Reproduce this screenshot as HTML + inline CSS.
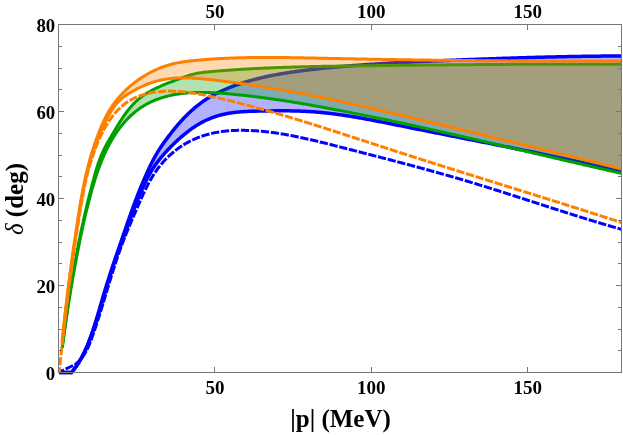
<!DOCTYPE html>
<html><head><meta charset="utf-8"><title>plot</title>
<style>
html,body{margin:0;padding:0;background:#fff;}
body{width:623px;height:435px;overflow:hidden;font-family:"Liberation Serif",serif;}
svg{display:block;will-change:transform;opacity:0.999}
</style></head><body>
<svg width="623" height="435" viewBox="0 0 623 435">
<rect width="623" height="435" fill="#ffffff"/>
<clipPath id="c"><rect x="0" y="0" width="622" height="435"/></clipPath>
<g clip-path="url(#c)">
<path d="M59.30,372.50 L71.40,372.50 L72.19,371.58 L72.96,370.64 L73.72,369.69 L74.45,368.73 L75.18,367.75 L75.89,366.77 L76.58,365.78 L77.26,364.77 L77.92,363.76 L78.57,362.73 L79.21,361.70 L79.83,360.66 L80.44,359.61 L81.03,358.55 L81.62,357.48 L82.19,356.41 L82.75,355.33 L83.30,354.24 L83.84,353.14 L84.37,352.04 L84.89,350.93 L85.40,349.82 L85.89,348.70 L86.38,347.58 L86.86,346.45 L87.34,345.31 L87.80,344.18 L88.26,343.04 L88.70,341.89 L89.15,340.75 L89.58,339.60 L90.01,338.45 L90.43,337.29 L90.85,336.14 L91.26,334.98 L91.66,333.82 L92.06,332.66 L92.46,331.50 L92.85,330.34 L93.24,329.18 L93.62,328.02 L94.00,326.86 L94.38,325.69 L94.75,324.53 L95.12,323.36 L95.48,322.20 L95.85,321.03 L96.20,319.87 L96.56,318.70 L96.92,317.53 L97.27,316.36 L97.62,315.19 L97.97,314.03 L98.31,312.86 L98.66,311.69 L99.00,310.52 L99.35,309.35 L99.69,308.18 L100.03,307.01 L100.37,305.84 L100.71,304.67 L101.05,303.50 L101.39,302.33 L101.73,301.16 L102.08,299.99 L102.42,298.82 L102.76,297.65 L103.10,296.48 L103.45,295.31 L103.79,294.14 L104.14,292.98 L104.49,291.81 L104.84,290.64 L105.20,289.48 L105.55,288.31 L105.91,287.15 L106.27,285.98 L106.63,284.82 L107.00,283.65 L107.36,282.49 L107.73,281.33 L108.10,280.16 L108.47,279.00 L108.85,277.84 L109.22,276.68 L109.60,275.52 L109.98,274.36 L110.36,273.20 L110.74,272.04 L111.12,270.88 L111.50,269.72 L111.89,268.56 L112.27,267.40 L112.66,266.24 L113.05,265.09 L113.44,263.93 L113.83,262.77 L114.22,261.61 L114.61,260.46 L115.00,259.30 L115.39,258.14 L115.79,256.99 L116.18,255.83 L116.58,254.67 L116.97,253.52 L117.37,252.36 L117.76,251.20 L118.16,250.05 L118.56,248.89 L118.95,247.73 L119.35,246.58 L119.75,245.42 L120.14,244.26 L120.54,243.11 L120.94,241.95 L121.33,240.79 L121.73,239.64 L122.13,238.48 L122.52,237.32 L122.92,236.17 L123.31,235.01 L123.71,233.85 L124.11,232.70 L124.50,231.54 L124.90,230.38 L125.30,229.23 L125.70,228.07 L126.10,226.91 L126.49,225.76 L126.89,224.60 L127.30,223.45 L127.70,222.29 L128.10,221.14 L128.50,219.99 L128.91,218.83 L129.31,217.68 L129.72,216.53 L130.13,215.37 L130.54,214.22 L130.95,213.07 L131.36,211.92 L131.77,210.77 L132.19,209.62 L132.61,208.47 L133.03,207.33 L133.45,206.18 L133.87,205.03 L134.29,203.89 L134.72,202.74 L135.15,201.60 L135.58,200.46 L136.01,199.32 L136.45,198.18 L136.88,197.04 L137.32,195.90 L137.77,194.76 L138.21,193.62 L138.66,192.49 L139.11,191.35 L139.56,190.22 L140.02,189.08 L140.47,187.95 L140.94,186.82 L141.40,185.69 L141.87,184.57 L142.34,183.44 L142.81,182.32 L143.29,181.19 L143.77,180.07 L144.25,178.95 L144.74,177.83 L145.23,176.71 L145.73,175.60 L146.23,174.48 L146.73,173.37 L147.23,172.26 L147.74,171.15 L148.26,170.04 L148.78,168.93 L149.30,167.83 L149.83,166.72 L150.36,165.62 L150.89,164.53 L151.44,163.43 L151.99,162.34 L152.54,161.25 L153.11,160.17 L153.68,159.09 L154.25,158.02 L154.84,156.95 L155.44,155.88 L156.04,154.82 L156.65,153.77 L157.28,152.72 L157.91,151.68 L158.55,150.65 L159.21,149.62 L159.87,148.60 L160.54,147.58 L161.22,146.57 L161.91,145.56 L162.60,144.56 L163.30,143.56 L164.01,142.56 L164.72,141.57 L165.44,140.58 L166.16,139.60 L166.89,138.61 L167.62,137.63 L168.35,136.65 L169.09,135.68 L169.83,134.70 L170.58,133.73 L171.33,132.77 L172.08,131.80 L172.85,130.84 L173.61,129.89 L174.38,128.93 L175.16,127.99 L175.94,127.04 L176.72,126.10 L177.52,125.17 L178.31,124.24 L179.12,123.32 L179.93,122.40 L180.74,121.49 L181.56,120.59 L182.39,119.69 L183.23,118.79 L184.07,117.91 L184.91,117.03 L185.77,116.16 L186.63,115.29 L187.50,114.43 L188.37,113.58 L189.25,112.74 L190.14,111.91 L191.03,111.08 L191.94,110.26 L192.85,109.45 L193.76,108.65 L194.69,107.86 L195.62,107.08 L196.56,106.31 L197.51,105.55 L198.46,104.79 L199.42,104.05 L200.39,103.32 L201.37,102.59 L202.36,101.88 L203.35,101.18 L204.35,100.49 L205.36,99.81 L206.38,99.14 L207.41,98.49 L208.44,97.84 L209.48,97.21 L210.54,96.59 L211.60,95.98 L212.66,95.38 L213.74,94.80 L214.82,94.22 L215.91,93.66 L217.00,93.11 L218.10,92.56 L219.21,92.03 L220.32,91.51 L221.44,90.99 L222.56,90.49 L223.68,89.99 L224.81,89.50 L225.94,89.03 L227.07,88.56 L228.21,88.09 L229.35,87.64 L230.49,87.19 L231.63,86.75 L232.78,86.32 L233.93,85.89 L235.08,85.47 L236.23,85.06 L237.38,84.66 L238.53,84.26 L239.69,83.87 L240.85,83.48 L242.01,83.10 L243.17,82.73 L244.34,82.37 L245.50,82.01 L246.67,81.66 L247.84,81.31 L249.01,80.97 L250.18,80.64 L251.35,80.31 L252.53,79.99 L253.70,79.67 L254.88,79.36 L256.06,79.06 L257.24,78.76 L258.43,78.46 L259.61,78.18 L260.79,77.89 L261.98,77.61 L263.17,77.34 L264.36,77.07 L265.55,76.81 L266.74,76.55 L267.93,76.30 L269.12,76.05 L270.32,75.80 L271.51,75.56 L272.71,75.33 L273.91,75.10 L275.11,74.87 L276.31,74.65 L277.51,74.43 L278.71,74.21 L279.91,74.00 L281.11,73.79 L282.32,73.59 L283.52,73.39 L284.73,73.19 L285.93,73.00 L287.14,72.81 L288.35,72.62 L289.56,72.44 L290.76,72.26 L291.97,72.08 L293.18,71.91 L294.39,71.73 L295.61,71.56 L296.82,71.40 L298.03,71.23 L299.24,71.07 L300.45,70.91 L301.67,70.76 L302.88,70.60 L304.09,70.45 L305.31,70.30 L306.52,70.15 L307.74,70.01 L308.95,69.86 L310.17,69.72 L311.38,69.58 L312.59,69.44 L313.81,69.30 L315.02,69.16 L316.24,69.03 L317.46,68.89 L318.67,68.76 L319.89,68.63 L321.10,68.50 L322.32,68.37 L323.53,68.25 L324.75,68.12 L325.96,68.00 L327.18,67.88 L328.40,67.76 L329.61,67.64 L330.83,67.52 L332.05,67.40 L333.26,67.29 L334.48,67.17 L335.69,67.06 L336.91,66.95 L338.13,66.84 L339.35,66.73 L340.56,66.62 L341.78,66.51 L343.00,66.41 L344.21,66.30 L345.43,66.20 L346.65,66.10 L347.87,66.00 L349.08,65.90 L350.30,65.80 L351.52,65.70 L352.74,65.61 L353.95,65.51 L355.17,65.42 L356.39,65.33 L357.61,65.23 L358.82,65.14 L360.04,65.05 L361.26,64.97 L362.48,64.88 L363.70,64.79 L364.92,64.71 L366.13,64.62 L367.35,64.54 L368.57,64.45 L369.79,64.37 L371.01,64.29 L372.23,64.21 L373.45,64.13 L374.67,64.05 L375.88,63.98 L377.10,63.90 L378.32,63.82 L379.54,63.75 L380.76,63.68 L381.98,63.60 L383.20,63.53 L384.42,63.46 L385.64,63.39 L386.86,63.32 L388.08,63.25 L389.30,63.18 L390.51,63.11 L391.73,63.04 L392.95,62.98 L394.17,62.91 L395.39,62.84 L396.61,62.78 L397.83,62.71 L399.05,62.65 L400.27,62.59 L401.49,62.53 L402.71,62.46 L403.93,62.40 L405.15,62.34 L406.37,62.28 L407.59,62.22 L408.81,62.16 L410.03,62.10 L411.25,62.04 L412.47,61.99 L413.69,61.93 L414.91,61.87 L416.13,61.82 L417.35,61.76 L418.57,61.70 L419.79,61.65 L421.01,61.59 L422.23,61.54 L423.45,61.48 L424.68,61.43 L425.90,61.38 L427.12,61.32 L428.34,61.27 L429.56,61.22 L430.78,61.17 L432.00,61.11 L433.22,61.06 L434.44,61.01 L435.66,60.96 L436.88,60.91 L438.10,60.85 L439.32,60.80 L440.54,60.75 L441.76,60.70 L442.98,60.65 L444.20,60.60 L445.42,60.55 L446.64,60.50 L447.87,60.45 L449.09,60.40 L450.31,60.35 L451.53,60.30 L452.75,60.25 L453.97,60.20 L455.19,60.15 L456.41,60.10 L457.63,60.05 L458.85,60.00 L460.07,59.96 L461.29,59.91 L462.51,59.86 L463.73,59.81 L464.96,59.76 L466.18,59.71 L467.40,59.67 L468.62,59.62 L469.84,59.57 L471.06,59.53 L472.28,59.48 L473.50,59.43 L474.72,59.39 L475.94,59.34 L477.16,59.29 L478.38,59.25 L479.61,59.20 L480.83,59.16 L482.05,59.11 L483.27,59.07 L484.49,59.02 L485.71,58.98 L486.93,58.93 L488.15,58.89 L489.37,58.84 L490.59,58.80 L491.81,58.76 L493.04,58.71 L494.26,58.67 L495.48,58.63 L496.70,58.58 L497.92,58.54 L499.14,58.50 L500.36,58.46 L501.58,58.42 L502.80,58.37 L504.02,58.33 L505.24,58.29 L506.47,58.25 L507.69,58.21 L508.91,58.17 L510.13,58.13 L511.35,58.09 L512.57,58.05 L513.79,58.01 L515.01,57.98 L516.23,57.94 L517.46,57.90 L518.68,57.86 L519.90,57.82 L521.12,57.79 L522.34,57.75 L523.56,57.71 L524.78,57.68 L526.00,57.64 L527.22,57.61 L528.45,57.57 L529.67,57.54 L530.89,57.50 L532.11,57.47 L533.33,57.43 L534.55,57.40 L535.77,57.37 L536.99,57.33 L538.22,57.30 L539.44,57.27 L540.66,57.24 L541.88,57.20 L543.10,57.17 L544.32,57.14 L545.54,57.11 L546.76,57.08 L547.99,57.05 L549.21,57.02 L550.43,56.99 L551.65,56.96 L552.87,56.93 L554.09,56.91 L555.31,56.88 L556.54,56.85 L557.76,56.82 L558.98,56.80 L560.20,56.77 L561.42,56.74 L562.64,56.72 L563.86,56.69 L565.08,56.67 L566.31,56.65 L567.53,56.62 L568.75,56.60 L569.97,56.57 L571.19,56.55 L572.41,56.53 L573.63,56.51 L574.86,56.49 L576.08,56.47 L577.30,56.44 L578.52,56.42 L579.74,56.40 L580.96,56.39 L582.19,56.37 L583.41,56.35 L584.63,56.33 L585.85,56.31 L587.07,56.29 L588.29,56.28 L589.51,56.26 L590.74,56.25 L591.96,56.23 L593.18,56.22 L594.40,56.20 L595.62,56.19 L596.84,56.17 L598.07,56.16 L599.29,56.15 L600.51,56.14 L601.73,56.12 L602.95,56.11 L604.17,56.10 L605.40,56.09 L606.62,56.08 L607.84,56.07 L609.06,56.06 L610.28,56.06 L611.50,56.05 L612.73,56.04 L613.95,56.03 L615.17,56.03 L616.39,56.02 L617.61,56.02 L618.83,56.01 L620.06,56.01 L621.28,56.00 L622.50,56.00 L622.50,172.10 L621.34,171.81 L620.18,171.53 L619.01,171.24 L617.85,170.96 L616.69,170.67 L615.53,170.39 L614.36,170.11 L613.20,169.83 L612.04,169.54 L610.87,169.26 L609.71,168.99 L608.55,168.71 L607.38,168.43 L606.22,168.15 L605.05,167.88 L603.89,167.60 L602.72,167.33 L601.56,167.06 L600.39,166.78 L599.23,166.51 L598.06,166.24 L596.90,165.97 L595.73,165.70 L594.56,165.43 L593.40,165.16 L592.23,164.90 L591.06,164.63 L589.90,164.36 L588.73,164.10 L587.56,163.83 L586.40,163.57 L585.23,163.31 L584.06,163.04 L582.89,162.78 L581.72,162.52 L580.56,162.26 L579.39,162.00 L578.22,161.74 L577.05,161.48 L575.88,161.22 L574.71,160.97 L573.54,160.71 L572.37,160.45 L571.20,160.20 L570.04,159.94 L568.87,159.69 L567.70,159.43 L566.53,159.18 L565.36,158.93 L564.19,158.67 L563.01,158.42 L561.84,158.17 L560.67,157.92 L559.50,157.67 L558.33,157.42 L557.16,157.17 L555.99,156.92 L554.82,156.67 L553.65,156.43 L552.48,156.18 L551.30,155.93 L550.13,155.69 L548.96,155.44 L547.79,155.19 L546.62,154.95 L545.45,154.70 L544.27,154.46 L543.10,154.22 L541.93,153.97 L540.76,153.73 L539.58,153.49 L538.41,153.25 L537.24,153.00 L536.07,152.76 L534.89,152.52 L533.72,152.28 L532.55,152.04 L531.37,151.80 L530.20,151.56 L529.03,151.32 L527.86,151.08 L526.68,150.85 L525.51,150.61 L524.34,150.37 L523.16,150.13 L521.99,149.89 L520.81,149.66 L519.64,149.42 L518.47,149.18 L517.29,148.95 L516.12,148.71 L514.95,148.48 L513.77,148.24 L512.60,148.01 L511.42,147.77 L510.25,147.54 L509.08,147.30 L507.90,147.07 L506.73,146.83 L505.55,146.60 L504.38,146.37 L503.21,146.13 L502.03,145.90 L500.86,145.67 L499.68,145.43 L498.51,145.20 L497.34,144.97 L496.16,144.73 L494.99,144.50 L493.81,144.27 L492.64,144.04 L491.47,143.81 L490.29,143.57 L489.12,143.34 L487.94,143.11 L486.77,142.88 L485.59,142.65 L484.42,142.42 L483.25,142.18 L482.07,141.95 L480.90,141.72 L479.72,141.49 L478.55,141.26 L477.38,141.03 L476.20,140.80 L475.03,140.57 L473.85,140.33 L472.68,140.10 L471.51,139.87 L470.33,139.64 L469.16,139.41 L467.99,139.18 L466.81,138.95 L465.64,138.72 L464.46,138.49 L463.29,138.25 L462.12,138.02 L460.94,137.79 L459.77,137.56 L458.60,137.33 L457.42,137.10 L456.25,136.87 L455.08,136.63 L453.90,136.40 L452.73,136.17 L451.56,135.94 L450.38,135.71 L449.21,135.48 L448.04,135.24 L446.86,135.01 L445.69,134.78 L444.52,134.55 L443.34,134.31 L442.17,134.08 L441.00,133.85 L439.83,133.62 L438.65,133.38 L437.48,133.15 L436.31,132.92 L435.13,132.69 L433.96,132.45 L432.79,132.22 L431.61,131.99 L430.44,131.75 L429.27,131.52 L428.09,131.29 L426.92,131.05 L425.75,130.82 L424.57,130.59 L423.40,130.35 L422.23,130.12 L421.05,129.88 L419.88,129.65 L418.70,129.42 L417.53,129.18 L416.36,128.95 L415.18,128.71 L414.01,128.48 L412.84,128.24 L411.66,128.01 L410.49,127.77 L409.31,127.54 L408.14,127.30 L406.97,127.07 L405.79,126.83 L404.62,126.60 L403.44,126.36 L402.27,126.12 L401.09,125.89 L399.92,125.65 L398.75,125.41 L397.57,125.18 L396.40,124.94 L395.22,124.70 L394.05,124.47 L392.87,124.23 L391.70,123.99 L390.52,123.76 L389.34,123.52 L388.17,123.29 L386.99,123.05 L385.82,122.82 L384.64,122.59 L383.47,122.35 L382.29,122.12 L381.11,121.89 L379.94,121.66 L378.76,121.43 L377.58,121.20 L376.41,120.97 L375.23,120.74 L374.05,120.52 L372.88,120.29 L371.70,120.07 L370.52,119.85 L369.34,119.63 L368.17,119.41 L366.99,119.19 L365.81,118.97 L364.63,118.76 L363.45,118.54 L362.27,118.33 L361.09,118.12 L359.91,117.92 L358.73,117.71 L357.55,117.51 L356.37,117.30 L355.19,117.10 L354.01,116.91 L352.83,116.71 L351.65,116.52 L350.47,116.32 L349.29,116.14 L348.11,115.95 L346.93,115.77 L345.74,115.58 L344.56,115.41 L343.38,115.23 L342.20,115.06 L341.01,114.88 L339.83,114.72 L338.65,114.55 L337.46,114.39 L336.28,114.23 L335.09,114.08 L333.91,113.92 L332.72,113.77 L331.54,113.63 L330.35,113.48 L329.16,113.34 L327.98,113.21 L326.79,113.07 L325.60,112.95 L324.42,112.82 L323.23,112.70 L322.04,112.58 L320.85,112.46 L319.66,112.35 L318.48,112.25 L317.29,112.14 L316.10,112.05 L314.91,111.95 L313.72,111.86 L312.52,111.77 L311.33,111.69 L310.14,111.61 L308.95,111.54 L307.76,111.47 L306.56,111.41 L305.37,111.35 L304.18,111.29 L302.98,111.23 L301.79,111.19 L300.60,111.14 L299.40,111.10 L298.21,111.06 L297.01,111.02 L295.82,110.99 L294.62,110.96 L293.42,110.93 L292.23,110.91 L291.03,110.89 L289.83,110.87 L288.64,110.86 L287.44,110.84 L286.24,110.83 L285.04,110.83 L283.84,110.82 L282.65,110.82 L281.45,110.82 L280.25,110.82 L279.05,110.82 L277.85,110.83 L276.65,110.83 L275.45,110.84 L274.25,110.85 L273.05,110.86 L271.85,110.88 L270.65,110.89 L269.45,110.90 L268.25,110.92 L267.05,110.94 L265.85,110.96 L264.65,110.98 L263.45,111.00 L262.25,111.02 L261.04,111.04 L259.84,111.06 L258.64,111.08 L257.44,111.11 L256.24,111.13 L255.04,111.16 L253.84,111.19 L252.63,111.23 L251.43,111.27 L250.23,111.31 L249.03,111.35 L247.83,111.41 L246.63,111.46 L245.44,111.53 L244.24,111.60 L243.04,111.67 L241.84,111.76 L240.65,111.85 L239.45,111.95 L238.26,112.06 L237.06,112.18 L235.87,112.30 L234.68,112.44 L233.49,112.59 L232.30,112.75 L231.11,112.92 L229.93,113.10 L228.75,113.30 L227.57,113.50 L226.40,113.72 L225.23,113.96 L224.06,114.21 L222.90,114.47 L221.74,114.75 L220.58,115.04 L219.43,115.35 L218.29,115.67 L217.15,116.01 L216.02,116.37 L214.89,116.74 L213.77,117.13 L212.65,117.53 L211.54,117.95 L210.44,118.39 L209.34,118.84 L208.25,119.30 L207.16,119.78 L206.08,120.28 L205.01,120.79 L203.95,121.31 L202.89,121.85 L201.84,122.41 L200.79,122.98 L199.75,123.56 L198.72,124.16 L197.70,124.77 L196.69,125.39 L195.68,126.03 L194.68,126.68 L193.68,127.34 L192.69,128.01 L191.71,128.70 L190.74,129.40 L189.77,130.10 L188.81,130.82 L187.85,131.55 L186.91,132.29 L185.96,133.03 L185.03,133.79 L184.10,134.56 L183.17,135.33 L182.25,136.11 L181.34,136.90 L180.43,137.69 L179.53,138.50 L178.63,139.31 L177.74,140.12 L176.86,140.94 L175.98,141.77 L175.10,142.60 L174.23,143.43 L173.37,144.27 L172.51,145.12 L171.65,145.97 L170.80,146.82 L169.96,147.68 L169.12,148.54 L168.29,149.41 L167.46,150.28 L166.65,151.16 L165.83,152.04 L165.03,152.93 L164.23,153.82 L163.44,154.72 L162.66,155.62 L161.89,156.53 L161.13,157.45 L160.37,158.37 L159.62,159.30 L158.89,160.23 L158.16,161.17 L157.44,162.12 L156.73,163.08 L156.03,164.04 L155.34,165.01 L154.67,165.98 L154.00,166.96 L153.35,167.95 L152.70,168.95 L152.07,169.95 L151.45,170.96 L150.84,171.98 L150.24,173.01 L149.65,174.04 L149.07,175.08 L148.51,176.12 L147.95,177.18 L147.40,178.23 L146.85,179.29 L146.32,180.36 L145.79,181.43 L145.27,182.50 L144.76,183.58 L144.25,184.66 L143.75,185.75 L143.26,186.84 L142.77,187.93 L142.28,189.02 L141.80,190.11 L141.32,191.21 L140.85,192.31 L140.38,193.41 L139.91,194.51 L139.45,195.62 L138.99,196.72 L138.53,197.83 L138.07,198.94 L137.62,200.05 L137.18,201.16 L136.73,202.27 L136.29,203.39 L135.85,204.50 L135.41,205.62 L134.98,206.74 L134.54,207.86 L134.11,208.97 L133.68,210.09 L133.26,211.22 L132.83,212.34 L132.41,213.46 L131.98,214.58 L131.56,215.71 L131.14,216.83 L130.72,217.96 L130.31,219.08 L129.89,220.21 L129.47,221.33 L129.06,222.46 L128.64,223.59 L128.23,224.71 L127.81,225.84 L127.40,226.96 L126.98,228.09 L126.57,229.22 L126.15,230.34 L125.74,231.47 L125.32,232.59 L124.90,233.72 L124.49,234.84 L124.07,235.96 L123.65,237.09 L123.23,238.21 L122.81,239.33 L122.39,240.45 L121.97,241.58 L121.55,242.70 L121.13,243.82 L120.71,244.94 L120.29,246.06 L119.87,247.18 L119.46,248.30 L119.04,249.43 L118.63,250.55 L118.22,251.67 L117.81,252.80 L117.40,253.92 L116.99,255.04 L116.59,256.17 L116.19,257.29 L115.79,258.42 L115.39,259.55 L115.00,260.68 L114.61,261.81 L114.23,262.94 L113.84,264.07 L113.46,265.20 L113.09,266.34 L112.72,267.47 L112.34,268.61 L111.98,269.74 L111.61,270.88 L111.25,272.02 L110.89,273.16 L110.53,274.30 L110.18,275.44 L109.82,276.58 L109.47,277.72 L109.12,278.86 L108.77,280.01 L108.43,281.15 L108.08,282.29 L107.74,283.44 L107.39,284.58 L107.05,285.73 L106.71,286.87 L106.37,288.02 L106.03,289.17 L105.69,290.31 L105.36,291.46 L105.02,292.61 L104.68,293.75 L104.34,294.90 L104.00,296.05 L103.67,297.19 L103.33,298.34 L102.99,299.49 L102.65,300.64 L102.31,301.78 L101.97,302.93 L101.63,304.08 L101.29,305.22 L100.95,306.37 L100.60,307.52 L100.26,308.66 L99.91,309.81 L99.56,310.95 L99.21,312.10 L98.86,313.24 L98.50,314.38 L98.15,315.53 L97.79,316.67 L97.43,317.81 L97.06,318.95 L96.70,320.09 L96.33,321.23 L95.96,322.37 L95.58,323.51 L95.21,324.65 L94.83,325.78 L94.44,326.92 L94.06,328.05 L93.67,329.19 L93.27,330.32 L92.88,331.45 L92.47,332.58 L92.07,333.71 L91.66,334.84 L91.24,335.97 L90.83,337.09 L90.40,338.22 L89.97,339.34 L89.54,340.46 L89.10,341.57 L88.65,342.69 L88.20,343.80 L87.74,344.91 L87.27,346.01 L86.80,347.11 L86.32,348.21 L85.82,349.30 L85.32,350.39 L84.81,351.47 L84.30,352.54 L83.77,353.61 L83.23,354.68 L82.68,355.74 L82.12,356.79 L81.55,357.83 L80.97,358.87 L80.37,359.90 L79.76,360.92 L79.14,361.94 L78.51,362.95 L77.87,363.94 L77.21,364.93 L76.53,365.91 L75.85,366.89 L75.14,367.85 L74.43,368.80 L73.69,369.74 L72.95,370.67 L72.18,371.59 L71.40,372.50 L59.30,372.50Z" fill="#0000ff" fill-opacity="0.3" stroke="none"/>
<path d="M59.30,372.50 L71.40,372.50 L72.19,371.58 L72.96,370.64 L73.72,369.69 L74.45,368.73 L75.18,367.75 L75.89,366.77 L76.58,365.78 L77.26,364.77 L77.92,363.76 L78.57,362.73 L79.21,361.70 L79.83,360.66 L80.44,359.61 L81.03,358.55 L81.62,357.48 L82.19,356.41 L82.75,355.33 L83.30,354.24 L83.84,353.14 L84.37,352.04 L84.89,350.93 L85.40,349.82 L85.89,348.70 L86.38,347.58 L86.86,346.45 L87.34,345.31 L87.80,344.18 L88.26,343.04 L88.70,341.89 L89.15,340.75 L89.58,339.60 L90.01,338.45 L90.43,337.29 L90.85,336.14 L91.26,334.98 L91.66,333.82 L92.06,332.66 L92.46,331.50 L92.85,330.34 L93.24,329.18 L93.62,328.02 L94.00,326.86 L94.38,325.69 L94.75,324.53 L95.12,323.36 L95.48,322.20 L95.85,321.03 L96.20,319.87 L96.56,318.70 L96.92,317.53 L97.27,316.36 L97.62,315.19 L97.97,314.03 L98.31,312.86 L98.66,311.69 L99.00,310.52 L99.35,309.35 L99.69,308.18 L100.03,307.01 L100.37,305.84 L100.71,304.67 L101.05,303.50 L101.39,302.33 L101.73,301.16 L102.08,299.99 L102.42,298.82 L102.76,297.65 L103.10,296.48 L103.45,295.31 L103.79,294.14 L104.14,292.98 L104.49,291.81 L104.84,290.64 L105.20,289.48 L105.55,288.31 L105.91,287.15 L106.27,285.98 L106.63,284.82 L107.00,283.65 L107.36,282.49 L107.73,281.33 L108.10,280.16 L108.47,279.00 L108.85,277.84 L109.22,276.68 L109.60,275.52 L109.98,274.36 L110.36,273.20 L110.74,272.04 L111.12,270.88 L111.50,269.72 L111.89,268.56 L112.27,267.40 L112.66,266.24 L113.05,265.09 L113.44,263.93 L113.83,262.77 L114.22,261.61 L114.61,260.46 L115.00,259.30 L115.39,258.14 L115.79,256.99 L116.18,255.83 L116.58,254.67 L116.97,253.52 L117.37,252.36 L117.76,251.20 L118.16,250.05 L118.56,248.89 L118.95,247.73 L119.35,246.58 L119.75,245.42 L120.14,244.26 L120.54,243.11 L120.94,241.95 L121.33,240.79 L121.73,239.64 L122.13,238.48 L122.52,237.32 L122.92,236.17 L123.31,235.01 L123.71,233.85 L124.11,232.70 L124.50,231.54 L124.90,230.38 L125.30,229.23 L125.70,228.07 L126.10,226.91 L126.49,225.76 L126.89,224.60 L127.30,223.45 L127.70,222.29 L128.10,221.14 L128.50,219.99 L128.91,218.83 L129.31,217.68 L129.72,216.53 L130.13,215.37 L130.54,214.22 L130.95,213.07 L131.36,211.92 L131.77,210.77 L132.19,209.62 L132.61,208.47 L133.03,207.33 L133.45,206.18 L133.87,205.03 L134.29,203.89 L134.72,202.74 L135.15,201.60 L135.58,200.46 L136.01,199.32 L136.45,198.18 L136.88,197.04 L137.32,195.90 L137.77,194.76 L138.21,193.62 L138.66,192.49 L139.11,191.35 L139.56,190.22 L140.02,189.08 L140.47,187.95 L140.94,186.82 L141.40,185.69 L141.87,184.57 L142.34,183.44 L142.81,182.32 L143.29,181.19 L143.77,180.07 L144.25,178.95 L144.74,177.83 L145.23,176.71 L145.73,175.60 L146.23,174.48 L146.73,173.37 L147.23,172.26 L147.74,171.15 L148.26,170.04 L148.78,168.93 L149.30,167.83 L149.83,166.72 L150.36,165.62 L150.89,164.53 L151.44,163.43 L151.99,162.34 L152.54,161.25 L153.11,160.17 L153.68,159.09 L154.25,158.02 L154.84,156.95 L155.44,155.88 L156.04,154.82 L156.65,153.77 L157.28,152.72 L157.91,151.68 L158.55,150.65 L159.21,149.62 L159.87,148.60 L160.54,147.58 L161.22,146.57 L161.91,145.56 L162.60,144.56 L163.30,143.56 L164.01,142.56 L164.72,141.57 L165.44,140.58 L166.16,139.60 L166.89,138.61 L167.62,137.63 L168.35,136.65 L169.09,135.68 L169.83,134.70 L170.58,133.73 L171.33,132.77 L172.08,131.80 L172.85,130.84 L173.61,129.89 L174.38,128.93 L175.16,127.99 L175.94,127.04 L176.72,126.10 L177.52,125.17 L178.31,124.24 L179.12,123.32 L179.93,122.40 L180.74,121.49 L181.56,120.59 L182.39,119.69 L183.23,118.79 L184.07,117.91 L184.91,117.03 L185.77,116.16 L186.63,115.29 L187.50,114.43 L188.37,113.58 L189.25,112.74 L190.14,111.91 L191.03,111.08 L191.94,110.26 L192.85,109.45 L193.76,108.65 L194.69,107.86 L195.62,107.08 L196.56,106.31 L197.51,105.55 L198.46,104.79 L199.42,104.05 L200.39,103.32 L201.37,102.59 L202.36,101.88 L203.35,101.18 L204.35,100.49 L205.36,99.81 L206.38,99.14 L207.41,98.49 L208.44,97.84 L209.48,97.21 L210.54,96.59 L211.60,95.98 L212.66,95.38 L213.74,94.80 L214.82,94.22 L215.91,93.66 L217.00,93.11 L218.10,92.56 L219.21,92.03 L220.32,91.51 L221.44,90.99 L222.56,90.49 L223.68,89.99 L224.81,89.50 L225.94,89.03 L227.07,88.56 L228.21,88.09 L229.35,87.64 L230.49,87.19 L231.63,86.75 L232.78,86.32 L233.93,85.89 L235.08,85.47 L236.23,85.06 L237.38,84.66 L238.53,84.26 L239.69,83.87 L240.85,83.48 L242.01,83.10 L243.17,82.73 L244.34,82.37 L245.50,82.01 L246.67,81.66 L247.84,81.31 L249.01,80.97 L250.18,80.64 L251.35,80.31 L252.53,79.99 L253.70,79.67 L254.88,79.36 L256.06,79.06 L257.24,78.76 L258.43,78.46 L259.61,78.18 L260.79,77.89 L261.98,77.61 L263.17,77.34 L264.36,77.07 L265.55,76.81 L266.74,76.55 L267.93,76.30 L269.12,76.05 L270.32,75.80 L271.51,75.56 L272.71,75.33 L273.91,75.10 L275.11,74.87 L276.31,74.65 L277.51,74.43 L278.71,74.21 L279.91,74.00 L281.11,73.79 L282.32,73.59 L283.52,73.39 L284.73,73.19 L285.93,73.00 L287.14,72.81 L288.35,72.62 L289.56,72.44 L290.76,72.26 L291.97,72.08 L293.18,71.91 L294.39,71.73 L295.61,71.56 L296.82,71.40 L298.03,71.23 L299.24,71.07 L300.45,70.91 L301.67,70.76 L302.88,70.60 L304.09,70.45 L305.31,70.30 L306.52,70.15 L307.74,70.01 L308.95,69.86 L310.17,69.72 L311.38,69.58 L312.59,69.44 L313.81,69.30 L315.02,69.16 L316.24,69.03 L317.46,68.89 L318.67,68.76 L319.89,68.63 L321.10,68.50 L322.32,68.37 L323.53,68.25 L324.75,68.12 L325.96,68.00 L327.18,67.88 L328.40,67.76 L329.61,67.64 L330.83,67.52 L332.05,67.40 L333.26,67.29 L334.48,67.17 L335.69,67.06 L336.91,66.95 L338.13,66.84 L339.35,66.73 L340.56,66.62 L341.78,66.51 L343.00,66.41 L344.21,66.30 L345.43,66.20 L346.65,66.10 L347.87,66.00 L349.08,65.90 L350.30,65.80 L351.52,65.70 L352.74,65.61 L353.95,65.51 L355.17,65.42 L356.39,65.33 L357.61,65.23 L358.82,65.14 L360.04,65.05 L361.26,64.97 L362.48,64.88 L363.70,64.79 L364.92,64.71 L366.13,64.62 L367.35,64.54 L368.57,64.45 L369.79,64.37 L371.01,64.29 L372.23,64.21 L373.45,64.13 L374.67,64.05 L375.88,63.98 L377.10,63.90 L378.32,63.82 L379.54,63.75 L380.76,63.68 L381.98,63.60 L383.20,63.53 L384.42,63.46 L385.64,63.39 L386.86,63.32 L388.08,63.25 L389.30,63.18 L390.51,63.11 L391.73,63.04 L392.95,62.98 L394.17,62.91 L395.39,62.84 L396.61,62.78 L397.83,62.71 L399.05,62.65 L400.27,62.59 L401.49,62.53 L402.71,62.46 L403.93,62.40 L405.15,62.34 L406.37,62.28 L407.59,62.22 L408.81,62.16 L410.03,62.10 L411.25,62.04 L412.47,61.99 L413.69,61.93 L414.91,61.87 L416.13,61.82 L417.35,61.76 L418.57,61.70 L419.79,61.65 L421.01,61.59 L422.23,61.54 L423.45,61.48 L424.68,61.43 L425.90,61.38 L427.12,61.32 L428.34,61.27 L429.56,61.22 L430.78,61.17 L432.00,61.11 L433.22,61.06 L434.44,61.01 L435.66,60.96 L436.88,60.91 L438.10,60.85 L439.32,60.80 L440.54,60.75 L441.76,60.70 L442.98,60.65 L444.20,60.60 L445.42,60.55 L446.64,60.50 L447.87,60.45 L449.09,60.40 L450.31,60.35 L451.53,60.30 L452.75,60.25 L453.97,60.20 L455.19,60.15 L456.41,60.10 L457.63,60.05 L458.85,60.00 L460.07,59.96 L461.29,59.91 L462.51,59.86 L463.73,59.81 L464.96,59.76 L466.18,59.71 L467.40,59.67 L468.62,59.62 L469.84,59.57 L471.06,59.53 L472.28,59.48 L473.50,59.43 L474.72,59.39 L475.94,59.34 L477.16,59.29 L478.38,59.25 L479.61,59.20 L480.83,59.16 L482.05,59.11 L483.27,59.07 L484.49,59.02 L485.71,58.98 L486.93,58.93 L488.15,58.89 L489.37,58.84 L490.59,58.80 L491.81,58.76 L493.04,58.71 L494.26,58.67 L495.48,58.63 L496.70,58.58 L497.92,58.54 L499.14,58.50 L500.36,58.46 L501.58,58.42 L502.80,58.37 L504.02,58.33 L505.24,58.29 L506.47,58.25 L507.69,58.21 L508.91,58.17 L510.13,58.13 L511.35,58.09 L512.57,58.05 L513.79,58.01 L515.01,57.98 L516.23,57.94 L517.46,57.90 L518.68,57.86 L519.90,57.82 L521.12,57.79 L522.34,57.75 L523.56,57.71 L524.78,57.68 L526.00,57.64 L527.22,57.61 L528.45,57.57 L529.67,57.54 L530.89,57.50 L532.11,57.47 L533.33,57.43 L534.55,57.40 L535.77,57.37 L536.99,57.33 L538.22,57.30 L539.44,57.27 L540.66,57.24 L541.88,57.20 L543.10,57.17 L544.32,57.14 L545.54,57.11 L546.76,57.08 L547.99,57.05 L549.21,57.02 L550.43,56.99 L551.65,56.96 L552.87,56.93 L554.09,56.91 L555.31,56.88 L556.54,56.85 L557.76,56.82 L558.98,56.80 L560.20,56.77 L561.42,56.74 L562.64,56.72 L563.86,56.69 L565.08,56.67 L566.31,56.65 L567.53,56.62 L568.75,56.60 L569.97,56.57 L571.19,56.55 L572.41,56.53 L573.63,56.51 L574.86,56.49 L576.08,56.47 L577.30,56.44 L578.52,56.42 L579.74,56.40 L580.96,56.39 L582.19,56.37 L583.41,56.35 L584.63,56.33 L585.85,56.31 L587.07,56.29 L588.29,56.28 L589.51,56.26 L590.74,56.25 L591.96,56.23 L593.18,56.22 L594.40,56.20 L595.62,56.19 L596.84,56.17 L598.07,56.16 L599.29,56.15 L600.51,56.14 L601.73,56.12 L602.95,56.11 L604.17,56.10 L605.40,56.09 L606.62,56.08 L607.84,56.07 L609.06,56.06 L610.28,56.06 L611.50,56.05 L612.73,56.04 L613.95,56.03 L615.17,56.03 L616.39,56.02 L617.61,56.02 L618.83,56.01 L620.06,56.01 L621.28,56.00 L622.50,56.00" fill="none" stroke="#0000ff" stroke-width="3.5" stroke-linejoin="round"/>
<path d="M59.30,372.50 L71.40,372.50 L72.18,371.59 L72.95,370.67 L73.69,369.74 L74.43,368.80 L75.14,367.85 L75.85,366.89 L76.53,365.91 L77.21,364.93 L77.87,363.94 L78.51,362.95 L79.14,361.94 L79.76,360.92 L80.37,359.90 L80.97,358.87 L81.55,357.83 L82.12,356.79 L82.68,355.74 L83.23,354.68 L83.77,353.61 L84.30,352.54 L84.81,351.47 L85.32,350.39 L85.82,349.30 L86.32,348.21 L86.80,347.11 L87.27,346.01 L87.74,344.91 L88.20,343.80 L88.65,342.69 L89.10,341.57 L89.54,340.46 L89.97,339.34 L90.40,338.22 L90.83,337.09 L91.24,335.97 L91.66,334.84 L92.07,333.71 L92.47,332.58 L92.88,331.45 L93.27,330.32 L93.67,329.19 L94.06,328.05 L94.44,326.92 L94.83,325.78 L95.21,324.65 L95.58,323.51 L95.96,322.37 L96.33,321.23 L96.70,320.09 L97.06,318.95 L97.43,317.81 L97.79,316.67 L98.15,315.53 L98.50,314.38 L98.86,313.24 L99.21,312.10 L99.56,310.95 L99.91,309.81 L100.26,308.66 L100.60,307.52 L100.95,306.37 L101.29,305.22 L101.63,304.08 L101.97,302.93 L102.31,301.78 L102.65,300.64 L102.99,299.49 L103.33,298.34 L103.67,297.19 L104.00,296.05 L104.34,294.90 L104.68,293.75 L105.02,292.61 L105.36,291.46 L105.69,290.31 L106.03,289.17 L106.37,288.02 L106.71,286.87 L107.05,285.73 L107.39,284.58 L107.74,283.44 L108.08,282.29 L108.43,281.15 L108.77,280.01 L109.12,278.86 L109.47,277.72 L109.82,276.58 L110.18,275.44 L110.53,274.30 L110.89,273.16 L111.25,272.02 L111.61,270.88 L111.98,269.74 L112.34,268.61 L112.72,267.47 L113.09,266.34 L113.46,265.20 L113.84,264.07 L114.23,262.94 L114.61,261.81 L115.00,260.68 L115.39,259.55 L115.79,258.42 L116.19,257.29 L116.59,256.17 L116.99,255.04 L117.40,253.92 L117.81,252.80 L118.22,251.67 L118.63,250.55 L119.04,249.43 L119.46,248.30 L119.87,247.18 L120.29,246.06 L120.71,244.94 L121.13,243.82 L121.55,242.70 L121.97,241.58 L122.39,240.45 L122.81,239.33 L123.23,238.21 L123.65,237.09 L124.07,235.96 L124.49,234.84 L124.90,233.72 L125.32,232.59 L125.74,231.47 L126.15,230.34 L126.57,229.22 L126.98,228.09 L127.40,226.96 L127.81,225.84 L128.23,224.71 L128.64,223.59 L129.06,222.46 L129.47,221.33 L129.89,220.21 L130.31,219.08 L130.72,217.96 L131.14,216.83 L131.56,215.71 L131.98,214.58 L132.41,213.46 L132.83,212.34 L133.26,211.22 L133.68,210.09 L134.11,208.97 L134.54,207.86 L134.98,206.74 L135.41,205.62 L135.85,204.50 L136.29,203.39 L136.73,202.27 L137.18,201.16 L137.62,200.05 L138.07,198.94 L138.53,197.83 L138.99,196.72 L139.45,195.62 L139.91,194.51 L140.38,193.41 L140.85,192.31 L141.32,191.21 L141.80,190.11 L142.28,189.02 L142.77,187.93 L143.26,186.84 L143.75,185.75 L144.25,184.66 L144.76,183.58 L145.27,182.50 L145.79,181.43 L146.32,180.36 L146.85,179.29 L147.40,178.23 L147.95,177.18 L148.51,176.12 L149.07,175.08 L149.65,174.04 L150.24,173.01 L150.84,171.98 L151.45,170.96 L152.07,169.95 L152.70,168.95 L153.35,167.95 L154.00,166.96 L154.67,165.98 L155.34,165.01 L156.03,164.04 L156.73,163.08 L157.44,162.12 L158.16,161.17 L158.89,160.23 L159.62,159.30 L160.37,158.37 L161.13,157.45 L161.89,156.53 L162.66,155.62 L163.44,154.72 L164.23,153.82 L165.03,152.93 L165.83,152.04 L166.65,151.16 L167.46,150.28 L168.29,149.41 L169.12,148.54 L169.96,147.68 L170.80,146.82 L171.65,145.97 L172.51,145.12 L173.37,144.27 L174.23,143.43 L175.10,142.60 L175.98,141.77 L176.86,140.94 L177.74,140.12 L178.63,139.31 L179.53,138.50 L180.43,137.69 L181.34,136.90 L182.25,136.11 L183.17,135.33 L184.10,134.56 L185.03,133.79 L185.96,133.03 L186.91,132.29 L187.85,131.55 L188.81,130.82 L189.77,130.10 L190.74,129.40 L191.71,128.70 L192.69,128.01 L193.68,127.34 L194.68,126.68 L195.68,126.03 L196.69,125.39 L197.70,124.77 L198.72,124.16 L199.75,123.56 L200.79,122.98 L201.84,122.41 L202.89,121.85 L203.95,121.31 L205.01,120.79 L206.08,120.28 L207.16,119.78 L208.25,119.30 L209.34,118.84 L210.44,118.39 L211.54,117.95 L212.65,117.53 L213.77,117.13 L214.89,116.74 L216.02,116.37 L217.15,116.01 L218.29,115.67 L219.43,115.35 L220.58,115.04 L221.74,114.75 L222.90,114.47 L224.06,114.21 L225.23,113.96 L226.40,113.72 L227.57,113.50 L228.75,113.30 L229.93,113.10 L231.11,112.92 L232.30,112.75 L233.49,112.59 L234.68,112.44 L235.87,112.30 L237.06,112.18 L238.26,112.06 L239.45,111.95 L240.65,111.85 L241.84,111.76 L243.04,111.67 L244.24,111.60 L245.44,111.53 L246.63,111.46 L247.83,111.41 L249.03,111.35 L250.23,111.31 L251.43,111.27 L252.63,111.23 L253.84,111.19 L255.04,111.16 L256.24,111.13 L257.44,111.11 L258.64,111.08 L259.84,111.06 L261.04,111.04 L262.25,111.02 L263.45,111.00 L264.65,110.98 L265.85,110.96 L267.05,110.94 L268.25,110.92 L269.45,110.90 L270.65,110.89 L271.85,110.88 L273.05,110.86 L274.25,110.85 L275.45,110.84 L276.65,110.83 L277.85,110.83 L279.05,110.82 L280.25,110.82 L281.45,110.82 L282.65,110.82 L283.84,110.82 L285.04,110.83 L286.24,110.83 L287.44,110.84 L288.64,110.86 L289.83,110.87 L291.03,110.89 L292.23,110.91 L293.42,110.93 L294.62,110.96 L295.82,110.99 L297.01,111.02 L298.21,111.06 L299.40,111.10 L300.60,111.14 L301.79,111.19 L302.98,111.23 L304.18,111.29 L305.37,111.35 L306.56,111.41 L307.76,111.47 L308.95,111.54 L310.14,111.61 L311.33,111.69 L312.52,111.77 L313.72,111.86 L314.91,111.95 L316.10,112.05 L317.29,112.14 L318.48,112.25 L319.66,112.35 L320.85,112.46 L322.04,112.58 L323.23,112.70 L324.42,112.82 L325.60,112.95 L326.79,113.07 L327.98,113.21 L329.16,113.34 L330.35,113.48 L331.54,113.63 L332.72,113.77 L333.91,113.92 L335.09,114.08 L336.28,114.23 L337.46,114.39 L338.65,114.55 L339.83,114.72 L341.01,114.88 L342.20,115.06 L343.38,115.23 L344.56,115.41 L345.74,115.58 L346.93,115.77 L348.11,115.95 L349.29,116.14 L350.47,116.32 L351.65,116.52 L352.83,116.71 L354.01,116.91 L355.19,117.10 L356.37,117.30 L357.55,117.51 L358.73,117.71 L359.91,117.92 L361.09,118.12 L362.27,118.33 L363.45,118.54 L364.63,118.76 L365.81,118.97 L366.99,119.19 L368.17,119.41 L369.34,119.63 L370.52,119.85 L371.70,120.07 L372.88,120.29 L374.05,120.52 L375.23,120.74 L376.41,120.97 L377.58,121.20 L378.76,121.43 L379.94,121.66 L381.11,121.89 L382.29,122.12 L383.47,122.35 L384.64,122.59 L385.82,122.82 L386.99,123.05 L388.17,123.29 L389.34,123.52 L390.52,123.76 L391.70,123.99 L392.87,124.23 L394.05,124.47 L395.22,124.70 L396.40,124.94 L397.57,125.18 L398.75,125.41 L399.92,125.65 L401.09,125.89 L402.27,126.12 L403.44,126.36 L404.62,126.60 L405.79,126.83 L406.97,127.07 L408.14,127.30 L409.31,127.54 L410.49,127.77 L411.66,128.01 L412.84,128.24 L414.01,128.48 L415.18,128.71 L416.36,128.95 L417.53,129.18 L418.70,129.42 L419.88,129.65 L421.05,129.88 L422.23,130.12 L423.40,130.35 L424.57,130.59 L425.75,130.82 L426.92,131.05 L428.09,131.29 L429.27,131.52 L430.44,131.75 L431.61,131.99 L432.79,132.22 L433.96,132.45 L435.13,132.69 L436.31,132.92 L437.48,133.15 L438.65,133.38 L439.83,133.62 L441.00,133.85 L442.17,134.08 L443.34,134.31 L444.52,134.55 L445.69,134.78 L446.86,135.01 L448.04,135.24 L449.21,135.48 L450.38,135.71 L451.56,135.94 L452.73,136.17 L453.90,136.40 L455.08,136.63 L456.25,136.87 L457.42,137.10 L458.60,137.33 L459.77,137.56 L460.94,137.79 L462.12,138.02 L463.29,138.25 L464.46,138.49 L465.64,138.72 L466.81,138.95 L467.99,139.18 L469.16,139.41 L470.33,139.64 L471.51,139.87 L472.68,140.10 L473.85,140.33 L475.03,140.57 L476.20,140.80 L477.38,141.03 L478.55,141.26 L479.72,141.49 L480.90,141.72 L482.07,141.95 L483.25,142.18 L484.42,142.42 L485.59,142.65 L486.77,142.88 L487.94,143.11 L489.12,143.34 L490.29,143.57 L491.47,143.81 L492.64,144.04 L493.81,144.27 L494.99,144.50 L496.16,144.73 L497.34,144.97 L498.51,145.20 L499.68,145.43 L500.86,145.67 L502.03,145.90 L503.21,146.13 L504.38,146.37 L505.55,146.60 L506.73,146.83 L507.90,147.07 L509.08,147.30 L510.25,147.54 L511.42,147.77 L512.60,148.01 L513.77,148.24 L514.95,148.48 L516.12,148.71 L517.29,148.95 L518.47,149.18 L519.64,149.42 L520.81,149.66 L521.99,149.89 L523.16,150.13 L524.34,150.37 L525.51,150.61 L526.68,150.85 L527.86,151.08 L529.03,151.32 L530.20,151.56 L531.37,151.80 L532.55,152.04 L533.72,152.28 L534.89,152.52 L536.07,152.76 L537.24,153.00 L538.41,153.25 L539.58,153.49 L540.76,153.73 L541.93,153.97 L543.10,154.22 L544.27,154.46 L545.45,154.70 L546.62,154.95 L547.79,155.19 L548.96,155.44 L550.13,155.69 L551.30,155.93 L552.48,156.18 L553.65,156.43 L554.82,156.67 L555.99,156.92 L557.16,157.17 L558.33,157.42 L559.50,157.67 L560.67,157.92 L561.84,158.17 L563.01,158.42 L564.19,158.67 L565.36,158.93 L566.53,159.18 L567.70,159.43 L568.87,159.69 L570.04,159.94 L571.20,160.20 L572.37,160.45 L573.54,160.71 L574.71,160.97 L575.88,161.22 L577.05,161.48 L578.22,161.74 L579.39,162.00 L580.56,162.26 L581.72,162.52 L582.89,162.78 L584.06,163.04 L585.23,163.31 L586.40,163.57 L587.56,163.83 L588.73,164.10 L589.90,164.36 L591.06,164.63 L592.23,164.90 L593.40,165.16 L594.56,165.43 L595.73,165.70 L596.90,165.97 L598.06,166.24 L599.23,166.51 L600.39,166.78 L601.56,167.06 L602.72,167.33 L603.89,167.60 L605.05,167.88 L606.22,168.15 L607.38,168.43 L608.55,168.71 L609.71,168.99 L610.87,169.26 L612.04,169.54 L613.20,169.83 L614.36,170.11 L615.53,170.39 L616.69,170.67 L617.85,170.96 L619.01,171.24 L620.18,171.53 L621.34,171.81 L622.50,172.10" fill="none" stroke="#0000ff" stroke-width="3.5" stroke-linejoin="round"/>
<path d="M59.30,372.30 L75.50,364.30 L76.43,363.53 L77.33,362.74 L78.20,361.92 L79.04,361.08 L79.84,360.23 L80.61,359.35 L81.36,358.46 L82.07,357.54 L82.77,356.61 L83.43,355.67 L84.07,354.70 L84.69,353.73 L85.28,352.73 L85.86,351.73 L86.41,350.71 L86.95,349.68 L87.47,348.64 L87.97,347.59 L88.46,346.53 L88.93,345.46 L89.39,344.38 L89.83,343.30 L90.27,342.20 L90.69,341.11 L91.11,340.01 L91.52,338.90 L91.92,337.79 L92.32,336.68 L92.71,335.56 L93.10,334.45 L93.49,333.33 L93.87,332.22 L94.26,331.10 L94.63,329.98 L95.01,328.86 L95.39,327.74 L95.76,326.62 L96.13,325.50 L96.50,324.38 L96.86,323.26 L97.23,322.14 L97.59,321.02 L97.95,319.89 L98.31,318.77 L98.67,317.65 L99.02,316.52 L99.38,315.40 L99.73,314.27 L100.08,313.15 L100.43,312.02 L100.78,310.90 L101.13,309.77 L101.47,308.65 L101.82,307.52 L102.16,306.39 L102.51,305.27 L102.85,304.14 L103.19,303.01 L103.54,301.89 L103.88,300.76 L104.22,299.63 L104.56,298.51 L104.90,297.38 L105.24,296.25 L105.58,295.13 L105.92,294.00 L106.26,292.87 L106.60,291.75 L106.94,290.62 L107.28,289.49 L107.61,288.37 L107.96,287.24 L108.30,286.12 L108.64,284.99 L108.98,283.87 L109.32,282.74 L109.66,281.62 L110.01,280.50 L110.35,279.37 L110.70,278.25 L111.04,277.13 L111.39,276.01 L111.74,274.89 L112.09,273.77 L112.44,272.65 L112.79,271.53 L113.15,270.41 L113.50,269.29 L113.86,268.17 L114.22,267.06 L114.58,265.94 L114.94,264.82 L115.30,263.71 L115.67,262.60 L116.03,261.48 L116.40,260.37 L116.78,259.26 L117.15,258.15 L117.53,257.04 L117.90,255.93 L118.29,254.82 L118.67,253.71 L119.06,252.61 L119.44,251.50 L119.84,250.40 L120.23,249.30 L120.63,248.20 L121.03,247.10 L121.43,246.00 L121.84,244.90 L122.25,243.80 L122.66,242.71 L123.07,241.61 L123.49,240.52 L123.92,239.43 L124.34,238.33 L124.77,237.24 L125.20,236.16 L125.64,235.07 L126.07,233.98 L126.51,232.89 L126.96,231.81 L127.40,230.72 L127.85,229.64 L128.30,228.56 L128.75,227.47 L129.20,226.39 L129.66,225.31 L130.12,224.23 L130.57,223.15 L131.03,222.06 L131.50,220.98 L131.96,219.90 L132.42,218.82 L132.89,217.74 L133.35,216.66 L133.82,215.57 L134.29,214.49 L134.76,213.41 L135.23,212.33 L135.70,211.24 L136.17,210.16 L136.64,209.07 L137.11,207.99 L137.58,206.90 L138.05,205.82 L138.52,204.73 L138.99,203.65 L139.47,202.56 L139.94,201.48 L140.42,200.39 L140.90,199.31 L141.38,198.23 L141.87,197.15 L142.36,196.07 L142.85,194.99 L143.35,193.92 L143.85,192.84 L144.36,191.77 L144.87,190.71 L145.38,189.64 L145.90,188.59 L146.43,187.53 L146.96,186.48 L147.50,185.43 L148.05,184.38 L148.60,183.34 L149.16,182.31 L149.73,181.28 L150.31,180.26 L150.89,179.24 L151.48,178.22 L152.08,177.22 L152.69,176.21 L153.31,175.22 L153.94,174.23 L154.58,173.25 L155.23,172.27 L155.89,171.31 L156.57,170.35 L157.25,169.40 L157.94,168.45 L158.65,167.52 L159.37,166.59 L160.10,165.67 L160.84,164.76 L161.59,163.86 L162.35,162.97 L163.12,162.08 L163.91,161.21 L164.70,160.35 L165.51,159.49 L166.32,158.65 L167.15,157.81 L167.99,156.99 L168.83,156.18 L169.69,155.37 L170.56,154.58 L171.43,153.80 L172.32,153.03 L173.21,152.27 L174.12,151.52 L175.03,150.79 L175.96,150.06 L176.89,149.35 L177.83,148.65 L178.79,147.96 L179.75,147.29 L180.72,146.63 L181.69,145.98 L182.68,145.34 L183.68,144.72 L184.68,144.11 L185.69,143.51 L186.71,142.93 L187.74,142.36 L188.78,141.81 L189.82,141.27 L190.87,140.74 L191.93,140.23 L193.00,139.74 L194.07,139.25 L195.15,138.79 L196.24,138.33 L197.33,137.89 L198.43,137.46 L199.54,137.05 L200.65,136.65 L201.76,136.27 L202.88,135.89 L204.01,135.53 L205.14,135.18 L206.27,134.84 L207.40,134.52 L208.54,134.21 L209.68,133.91 L210.83,133.62 L211.97,133.35 L213.12,133.09 L214.28,132.84 L215.43,132.60 L216.59,132.38 L217.75,132.17 L218.91,131.97 L220.07,131.79 L221.24,131.61 L222.40,131.45 L223.57,131.31 L224.74,131.17 L225.91,131.05 L227.08,130.93 L228.26,130.83 L229.43,130.74 L230.60,130.66 L231.78,130.59 L232.96,130.52 L234.13,130.47 L235.31,130.43 L236.48,130.39 L237.66,130.37 L238.83,130.35 L240.01,130.33 L241.18,130.33 L242.36,130.33 L243.53,130.34 L244.71,130.36 L245.88,130.38 L247.05,130.41 L248.22,130.45 L249.39,130.49 L250.56,130.54 L251.73,130.59 L252.90,130.65 L254.07,130.72 L255.24,130.79 L256.41,130.87 L257.57,130.95 L258.74,131.05 L259.91,131.14 L261.07,131.24 L262.24,131.35 L263.40,131.46 L264.56,131.58 L265.73,131.70 L266.89,131.83 L268.05,131.96 L269.21,132.10 L270.37,132.24 L271.53,132.39 L272.70,132.54 L273.85,132.70 L275.01,132.86 L276.17,133.03 L277.33,133.20 L278.49,133.38 L279.65,133.56 L280.80,133.74 L281.96,133.93 L283.12,134.12 L284.27,134.31 L285.43,134.51 L286.58,134.72 L287.74,134.93 L288.89,135.14 L290.05,135.35 L291.20,135.57 L292.35,135.79 L293.50,136.01 L294.66,136.24 L295.81,136.47 L296.96,136.71 L298.11,136.94 L299.26,137.19 L300.41,137.43 L301.56,137.67 L302.71,137.92 L303.86,138.17 L305.01,138.43 L306.16,138.68 L307.31,138.94 L308.46,139.20 L309.61,139.47 L310.75,139.73 L311.90,140.00 L313.05,140.27 L314.20,140.54 L315.34,140.81 L316.49,141.08 L317.64,141.36 L318.78,141.64 L319.93,141.92 L321.07,142.20 L322.22,142.48 L323.36,142.76 L324.51,143.05 L325.65,143.33 L326.80,143.62 L327.94,143.91 L329.09,144.20 L330.23,144.48 L331.37,144.77 L332.52,145.06 L333.66,145.35 L334.80,145.65 L335.95,145.94 L337.09,146.23 L338.23,146.52 L339.37,146.81 L340.52,147.11 L341.66,147.40 L342.80,147.69 L343.94,147.98 L345.08,148.28 L346.23,148.57 L347.37,148.86 L348.51,149.15 L349.65,149.44 L350.79,149.74 L351.93,150.03 L353.07,150.32 L354.22,150.61 L355.36,150.90 L356.50,151.19 L357.64,151.49 L358.78,151.78 L359.92,152.07 L361.06,152.36 L362.20,152.65 L363.34,152.95 L364.48,153.24 L365.62,153.53 L366.76,153.82 L367.90,154.12 L369.04,154.41 L370.18,154.70 L371.31,155.00 L372.45,155.29 L373.59,155.58 L374.73,155.88 L375.87,156.17 L377.01,156.46 L378.14,156.76 L379.28,157.05 L380.42,157.34 L381.56,157.64 L382.70,157.93 L383.83,158.23 L384.97,158.52 L386.11,158.82 L387.24,159.12 L388.38,159.41 L389.52,159.71 L390.65,160.00 L391.79,160.30 L392.93,160.60 L394.06,160.90 L395.20,161.19 L396.34,161.49 L397.47,161.79 L398.61,162.09 L399.74,162.39 L400.88,162.69 L402.01,162.99 L403.15,163.29 L404.28,163.59 L405.42,163.89 L406.55,164.19 L407.69,164.49 L408.82,164.79 L409.95,165.10 L411.09,165.40 L412.22,165.70 L413.35,166.01 L414.49,166.31 L415.62,166.62 L416.75,166.92 L417.89,167.23 L419.02,167.54 L420.15,167.84 L421.29,168.15 L422.42,168.46 L423.55,168.77 L424.68,169.07 L425.81,169.38 L426.95,169.69 L428.08,170.01 L429.21,170.32 L430.34,170.63 L431.47,170.94 L432.60,171.25 L433.73,171.57 L434.86,171.88 L435.99,172.20 L437.12,172.51 L438.25,172.83 L439.38,173.15 L440.51,173.46 L441.64,173.78 L442.77,174.10 L443.90,174.42 L445.03,174.74 L446.16,175.06 L447.29,175.38 L448.42,175.71 L449.55,176.03 L450.67,176.35 L451.80,176.68 L452.93,177.00 L454.06,177.33 L455.19,177.66 L456.31,177.98 L457.44,178.31 L458.57,178.64 L459.69,178.97 L460.82,179.30 L461.95,179.63 L463.07,179.97 L464.20,180.30 L465.33,180.63 L466.45,180.97 L467.58,181.31 L468.70,181.64 L469.83,181.98 L470.95,182.32 L472.08,182.66 L473.20,183.00 L474.33,183.34 L475.45,183.68 L476.58,184.02 L477.70,184.37 L478.83,184.71 L479.95,185.06 L481.07,185.40 L482.20,185.75 L483.32,186.09 L484.44,186.44 L485.57,186.79 L486.69,187.14 L487.81,187.49 L488.94,187.84 L490.06,188.19 L491.18,188.54 L492.30,188.89 L493.43,189.24 L494.55,189.60 L495.67,189.95 L496.79,190.30 L497.91,190.66 L499.04,191.01 L500.16,191.37 L501.28,191.73 L502.40,192.08 L503.52,192.44 L504.64,192.79 L505.77,193.15 L506.89,193.51 L508.01,193.87 L509.13,194.23 L510.25,194.59 L511.37,194.94 L512.49,195.30 L513.61,195.66 L514.73,196.02 L515.85,196.38 L516.98,196.74 L518.10,197.10 L519.22,197.47 L520.34,197.83 L521.46,198.19 L522.58,198.55 L523.70,198.91 L524.82,199.27 L525.94,199.63 L527.06,200.00 L528.18,200.36 L529.30,200.72 L530.42,201.08 L531.54,201.44 L532.66,201.81 L533.78,202.17 L534.90,202.53 L536.02,202.89 L537.14,203.26 L538.26,203.62 L539.38,203.98 L540.50,204.34 L541.62,204.70 L542.74,205.07 L543.86,205.43 L544.98,205.79 L546.11,206.15 L547.23,206.51 L548.35,206.87 L549.47,207.23 L550.59,207.60 L551.71,207.96 L552.83,208.32 L553.95,208.68 L555.07,209.04 L556.19,209.40 L557.31,209.75 L558.43,210.11 L559.55,210.47 L560.67,210.83 L561.79,211.19 L562.92,211.55 L564.04,211.90 L565.16,212.26 L566.28,212.62 L567.40,212.97 L568.52,213.33 L569.64,213.68 L570.76,214.04 L571.89,214.39 L573.01,214.75 L574.13,215.10 L575.25,215.45 L576.37,215.80 L577.50,216.16 L578.62,216.51 L579.74,216.86 L580.86,217.21 L581.99,217.56 L583.11,217.91 L584.23,218.25 L585.35,218.60 L586.48,218.95 L587.60,219.29 L588.72,219.64 L589.85,219.98 L590.97,220.33 L592.10,220.67 L593.22,221.01 L594.34,221.35 L595.47,221.69 L596.59,222.03 L597.72,222.37 L598.84,222.71 L599.97,223.05 L601.09,223.39 L602.22,223.72 L603.34,224.06 L604.47,224.39 L605.59,224.72 L606.72,225.06 L607.84,225.39 L608.97,225.72 L610.10,226.05 L611.22,226.38 L612.35,226.70 L613.48,227.03 L614.60,227.35 L615.73,227.68 L616.86,228.00 L617.99,228.32 L619.11,228.64 L620.24,228.96 L621.37,229.28 L622.50,229.60" fill="none" stroke="#0000ff" stroke-width="3.0" stroke-dasharray="8.3 1.7" stroke-dashoffset="3" stroke-linejoin="round"/>
<path d="M62.30,347.77 L62.46,346.48 L62.62,345.19 L62.79,343.90 L62.95,342.61 L63.12,341.32 L63.29,340.03 L63.45,338.74 L63.62,337.45 L63.79,336.16 L63.96,334.87 L64.13,333.58 L64.30,332.29 L64.47,331.00 L64.64,329.71 L64.82,328.42 L64.99,327.13 L65.17,325.84 L65.34,324.55 L65.52,323.26 L65.70,321.97 L65.87,320.68 L66.05,319.39 L66.23,318.10 L66.41,316.81 L66.60,315.52 L66.78,314.23 L66.96,312.94 L67.15,311.66 L67.33,310.37 L67.52,309.08 L67.71,307.79 L67.90,306.50 L68.08,305.22 L68.28,303.93 L68.47,302.64 L68.66,301.35 L68.85,300.07 L69.05,298.78 L69.24,297.49 L69.44,296.21 L69.64,294.92 L69.84,293.63 L70.04,292.35 L70.24,291.06 L70.44,289.78 L70.64,288.49 L70.85,287.20 L71.05,285.92 L71.26,284.63 L71.47,283.35 L71.68,282.06 L71.89,280.78 L72.10,279.50 L72.31,278.21 L72.53,276.93 L72.74,275.65 L72.96,274.36 L73.18,273.08 L73.39,271.80 L73.61,270.51 L73.84,269.23 L74.06,267.95 L74.28,266.67 L74.51,265.39 L74.74,264.11 L74.97,262.82 L75.20,261.54 L75.43,260.26 L75.66,258.98 L75.89,257.70 L76.13,256.42 L76.37,255.14 L76.60,253.87 L76.84,252.59 L77.09,251.31 L77.33,250.03 L77.57,248.75 L77.82,247.47 L78.07,246.20 L78.31,244.92 L78.56,243.64 L78.82,242.37 L79.07,241.09 L79.33,239.82 L79.58,238.54 L79.84,237.26 L80.10,235.99 L80.36,234.72 L80.62,233.44 L80.89,232.17 L81.16,230.89 L81.42,229.62 L81.69,228.35 L81.96,227.08 L82.24,225.80 L82.51,224.53 L82.79,223.26 L83.07,221.99 L83.35,220.72 L83.63,219.45 L83.91,218.18 L84.20,216.91 L84.48,215.64 L84.77,214.37 L85.06,213.11 L85.36,211.84 L85.65,210.57 L85.95,209.30 L86.24,208.04 L86.54,206.77 L86.85,205.51 L87.15,204.24 L87.45,202.98 L87.76,201.71 L88.07,200.45 L88.38,199.18 L88.70,197.92 L89.01,196.66 L89.33,195.40 L89.65,194.13 L89.97,192.87 L90.29,191.61 L90.62,190.35 L90.94,189.09 L91.27,187.83 L91.60,186.57 L91.94,185.32 L92.27,184.06 L92.61,182.80 L92.95,181.54 L93.29,180.29 L93.64,179.03 L93.98,177.77 L94.33,176.52 L94.68,175.26 L95.03,174.01 L95.39,172.76 L95.76,171.51 L96.12,170.26 L96.50,169.02 L96.88,167.77 L97.27,166.53 L97.66,165.30 L98.07,164.06 L98.48,162.84 L98.90,161.61 L99.34,160.39 L99.78,159.18 L100.24,157.97 L100.71,156.77 L101.19,155.57 L101.69,154.38 L102.20,153.19 L102.73,152.02 L103.27,150.85 L103.82,149.68 L104.39,148.52 L104.98,147.37 L105.57,146.23 L106.18,145.09 L106.80,143.95 L107.42,142.81 L108.06,141.68 L108.70,140.55 L109.35,139.43 L110.01,138.30 L110.67,137.17 L111.33,136.05 L112.00,134.92 L112.67,133.80 L113.34,132.67 L114.02,131.54 L114.69,130.41 L115.37,129.28 L116.05,128.15 L116.73,127.02 L117.42,125.89 L118.11,124.77 L118.81,123.65 L119.51,122.53 L120.22,121.42 L120.93,120.31 L121.65,119.21 L122.38,118.11 L123.11,117.02 L123.86,115.94 L124.61,114.87 L125.37,113.81 L126.14,112.76 L126.92,111.72 L127.71,110.69 L128.52,109.67 L129.33,108.66 L130.16,107.67 L131.00,106.69 L131.85,105.73 L132.72,104.78 L133.60,103.85 L134.49,102.93 L135.40,102.03 L136.33,101.15 L137.27,100.29 L138.23,99.45 L139.21,98.62 L140.20,97.82 L141.21,97.04 L142.24,96.27 L143.29,95.53 L144.35,94.81 L145.42,94.10 L146.51,93.41 L147.61,92.74 L148.73,92.08 L149.85,91.44 L150.99,90.81 L152.14,90.20 L153.30,89.60 L154.47,89.01 L155.65,88.44 L156.83,87.87 L158.03,87.32 L159.23,86.78 L160.43,86.25 L161.64,85.72 L162.86,85.21 L164.08,84.70 L165.30,84.20 L166.53,83.71 L167.76,83.22 L168.99,82.73 L170.22,82.25 L171.45,81.78 L172.68,81.31 L173.91,80.84 L175.14,80.37 L176.37,79.90 L177.59,79.44 L178.81,78.98 L180.03,78.52 L181.24,78.06 L182.46,77.61 L183.67,77.17 L184.89,76.74 L186.11,76.33 L187.33,75.92 L188.55,75.53 L189.78,75.15 L191.01,74.79 L192.25,74.45 L193.49,74.13 L194.74,73.84 L195.99,73.56 L197.25,73.31 L198.52,73.08 L199.79,72.87 L201.07,72.68 L202.36,72.51 L203.64,72.35 L204.94,72.20 L206.23,72.06 L207.53,71.93 L208.82,71.81 L210.12,71.69 L211.42,71.58 L212.72,71.46 L214.02,71.35 L215.32,71.24 L216.62,71.13 L217.92,71.03 L219.22,70.92 L220.52,70.82 L221.82,70.72 L223.12,70.62 L224.42,70.52 L225.72,70.42 L227.02,70.32 L228.32,70.23 L229.62,70.13 L230.92,70.04 L232.22,69.95 L233.52,69.86 L234.82,69.77 L236.12,69.69 L237.42,69.60 L238.72,69.52 L240.02,69.44 L241.31,69.36 L242.61,69.28 L243.91,69.20 L245.21,69.12 L246.51,69.05 L247.81,68.97 L249.11,68.90 L250.41,68.83 L251.72,68.75 L253.02,68.69 L254.32,68.62 L255.62,68.55 L256.92,68.48 L258.22,68.42 L259.52,68.35 L260.82,68.29 L262.12,68.23 L263.42,68.17 L264.72,68.11 L266.02,68.05 L267.32,67.99 L268.62,67.94 L269.92,67.88 L271.22,67.83 L272.52,67.78 L273.82,67.72 L275.12,67.67 L276.42,67.62 L277.72,67.57 L279.02,67.52 L280.32,67.48 L281.62,67.43 L282.92,67.39 L284.22,67.34 L285.52,67.30 L286.82,67.25 L288.12,67.21 L289.43,67.17 L290.73,67.13 L292.03,67.09 L293.33,67.05 L294.63,67.01 L295.93,66.98 L297.23,66.94 L298.53,66.90 L299.83,66.87 L301.13,66.83 L302.43,66.80 L303.73,66.77 L305.03,66.74 L306.33,66.70 L307.63,66.67 L308.94,66.64 L310.24,66.61 L311.54,66.58 L312.84,66.55 L314.14,66.53 L315.44,66.50 L316.74,66.47 L318.04,66.45 L319.34,66.42 L320.64,66.40 L321.94,66.37 L323.24,66.35 L324.54,66.32 L325.85,66.30 L327.15,66.28 L328.45,66.25 L329.75,66.23 L331.05,66.21 L332.35,66.19 L333.65,66.17 L334.95,66.15 L336.25,66.13 L337.55,66.11 L338.85,66.09 L340.16,66.07 L341.46,66.05 L342.76,66.03 L344.06,66.01 L345.36,66.00 L346.66,65.98 L347.96,65.96 L349.26,65.94 L350.56,65.93 L351.86,65.91 L353.17,65.89 L354.47,65.88 L355.77,65.86 L357.07,65.84 L358.37,65.83 L359.67,65.81 L360.97,65.80 L362.27,65.78 L363.57,65.77 L364.87,65.75 L366.18,65.73 L367.48,65.72 L368.78,65.70 L370.08,65.69 L371.38,65.67 L372.68,65.66 L373.98,65.64 L375.28,65.63 L376.58,65.61 L377.89,65.60 L379.19,65.58 L380.49,65.57 L381.79,65.55 L383.09,65.54 L384.39,65.52 L385.69,65.51 L386.99,65.49 L388.29,65.48 L389.59,65.46 L390.90,65.45 L392.20,65.43 L393.50,65.42 L394.80,65.40 L396.10,65.39 L397.40,65.37 L398.70,65.36 L400.00,65.35 L401.30,65.33 L402.61,65.32 L403.91,65.30 L405.21,65.29 L406.51,65.27 L407.81,65.26 L409.11,65.25 L410.41,65.23 L411.71,65.22 L413.01,65.20 L414.32,65.19 L415.62,65.18 L416.92,65.16 L418.22,65.15 L419.52,65.14 L420.82,65.12 L422.12,65.11 L423.42,65.10 L424.72,65.08 L426.03,65.07 L427.33,65.06 L428.63,65.04 L429.93,65.03 L431.23,65.02 L432.53,65.00 L433.83,64.99 L435.13,64.98 L436.43,64.96 L437.73,64.95 L439.04,64.94 L440.34,64.93 L441.64,64.91 L442.94,64.90 L444.24,64.89 L445.54,64.88 L446.84,64.87 L448.14,64.85 L449.44,64.84 L450.75,64.83 L452.05,64.82 L453.35,64.81 L454.65,64.79 L455.95,64.78 L457.25,64.77 L458.55,64.76 L459.85,64.75 L461.16,64.74 L462.46,64.72 L463.76,64.71 L465.06,64.70 L466.36,64.69 L467.66,64.68 L468.96,64.67 L470.26,64.66 L471.56,64.65 L472.87,64.64 L474.17,64.63 L475.47,64.62 L476.77,64.61 L478.07,64.60 L479.37,64.59 L480.67,64.58 L481.97,64.57 L483.27,64.56 L484.58,64.55 L485.88,64.54 L487.18,64.53 L488.48,64.52 L489.78,64.51 L491.08,64.50 L492.38,64.49 L493.68,64.48 L494.98,64.47 L496.29,64.46 L497.59,64.46 L498.89,64.45 L500.19,64.44 L501.49,64.43 L502.79,64.42 L504.09,64.41 L505.39,64.41 L506.70,64.40 L508.00,64.39 L509.30,64.38 L510.60,64.37 L511.90,64.37 L513.20,64.36 L514.50,64.35 L515.80,64.34 L517.10,64.34 L518.41,64.33 L519.71,64.32 L521.01,64.32 L522.31,64.31 L523.61,64.30 L524.91,64.30 L526.21,64.29 L527.51,64.28 L528.82,64.28 L530.12,64.27 L531.42,64.27 L532.72,64.26 L534.02,64.26 L535.32,64.25 L536.62,64.24 L537.92,64.24 L539.22,64.23 L540.53,64.23 L541.83,64.22 L543.13,64.22 L544.43,64.22 L545.73,64.21 L547.03,64.21 L548.33,64.20 L549.63,64.20 L550.94,64.19 L552.24,64.19 L553.54,64.19 L554.84,64.18 L556.14,64.18 L557.44,64.18 L558.74,64.17 L560.04,64.17 L561.34,64.17 L562.65,64.16 L563.95,64.16 L565.25,64.16 L566.55,64.16 L567.85,64.16 L569.15,64.15 L570.45,64.15 L571.75,64.15 L573.06,64.15 L574.36,64.15 L575.66,64.15 L576.96,64.14 L578.26,64.14 L579.56,64.14 L580.86,64.14 L582.16,64.14 L583.46,64.14 L584.77,64.14 L586.07,64.14 L587.37,64.14 L588.67,64.14 L589.97,64.14 L591.27,64.14 L592.57,64.14 L593.87,64.14 L595.18,64.14 L596.48,64.14 L597.78,64.15 L599.08,64.15 L600.38,64.15 L601.68,64.15 L602.98,64.15 L604.28,64.15 L605.58,64.16 L606.89,64.16 L608.19,64.16 L609.49,64.16 L610.79,64.17 L612.09,64.17 L613.39,64.17 L614.69,64.18 L615.99,64.18 L617.30,64.18 L618.60,64.19 L619.90,64.19 L621.20,64.20 L622.50,64.20 L622.50,173.60 L621.24,173.32 L619.98,173.03 L618.72,172.75 L617.46,172.47 L616.20,172.18 L614.93,171.90 L613.67,171.61 L612.41,171.33 L611.15,171.04 L609.89,170.76 L608.63,170.47 L607.37,170.19 L606.11,169.90 L604.85,169.61 L603.59,169.33 L602.32,169.04 L601.06,168.75 L599.80,168.46 L598.54,168.18 L597.28,167.89 L596.02,167.60 L594.76,167.31 L593.50,167.02 L592.24,166.73 L590.97,166.44 L589.71,166.15 L588.45,165.86 L587.19,165.57 L585.93,165.28 L584.67,164.99 L583.41,164.70 L582.15,164.41 L580.88,164.12 L579.62,163.83 L578.36,163.53 L577.10,163.24 L575.84,162.95 L574.58,162.66 L573.32,162.37 L572.05,162.07 L570.79,161.78 L569.53,161.49 L568.27,161.19 L567.01,160.90 L565.75,160.61 L564.48,160.31 L563.22,160.02 L561.96,159.73 L560.70,159.43 L559.44,159.14 L558.18,158.84 L556.91,158.55 L555.65,158.26 L554.39,157.96 L553.13,157.67 L551.87,157.37 L550.60,157.08 L549.34,156.78 L548.08,156.49 L546.82,156.19 L545.56,155.90 L544.29,155.60 L543.03,155.31 L541.77,155.01 L540.51,154.72 L539.25,154.42 L537.98,154.13 L536.72,153.83 L535.46,153.53 L534.20,153.24 L532.93,152.94 L531.67,152.65 L530.41,152.35 L529.15,152.06 L527.88,151.76 L526.62,151.47 L525.36,151.17 L524.10,150.87 L522.83,150.58 L521.57,150.28 L520.31,149.99 L519.05,149.69 L517.78,149.40 L516.52,149.10 L515.26,148.81 L514.00,148.51 L512.73,148.22 L511.47,147.92 L510.21,147.63 L508.94,147.33 L507.68,147.04 L506.42,146.74 L505.15,146.45 L503.89,146.15 L502.63,145.86 L501.37,145.56 L500.10,145.27 L498.84,144.97 L497.58,144.68 L496.31,144.39 L495.05,144.09 L493.79,143.80 L492.52,143.50 L491.26,143.21 L490.00,142.92 L488.73,142.62 L487.47,142.33 L486.20,142.04 L484.94,141.75 L483.68,141.45 L482.41,141.16 L481.15,140.87 L479.89,140.58 L478.62,140.28 L477.36,139.99 L476.09,139.70 L474.83,139.41 L473.57,139.12 L472.30,138.83 L471.04,138.54 L469.77,138.25 L468.51,137.96 L467.25,137.67 L465.98,137.38 L464.72,137.09 L463.45,136.80 L462.19,136.51 L460.92,136.22 L459.66,135.93 L458.40,135.64 L457.13,135.35 L455.87,135.07 L454.60,134.78 L453.34,134.49 L452.07,134.21 L450.81,133.92 L449.54,133.63 L448.28,133.35 L447.01,133.06 L445.75,132.78 L444.48,132.49 L443.22,132.21 L441.95,131.92 L440.69,131.64 L439.42,131.35 L438.16,131.07 L436.89,130.79 L435.63,130.50 L434.36,130.22 L433.10,129.94 L431.83,129.66 L430.57,129.38 L429.30,129.10 L428.03,128.81 L426.77,128.53 L425.50,128.25 L424.24,127.98 L422.97,127.70 L421.71,127.42 L420.44,127.14 L419.17,126.86 L417.91,126.58 L416.64,126.31 L415.38,126.03 L414.11,125.75 L412.84,125.48 L411.58,125.20 L410.31,124.93 L409.04,124.65 L407.78,124.38 L406.51,124.11 L405.24,123.83 L403.98,123.56 L402.71,123.29 L401.44,123.02 L400.18,122.75 L398.91,122.48 L397.64,122.21 L396.38,121.94 L395.11,121.67 L393.84,121.40 L392.58,121.13 L391.31,120.86 L390.04,120.59 L388.78,120.33 L387.51,120.06 L386.24,119.80 L384.97,119.53 L383.71,119.27 L382.44,119.00 L381.17,118.74 L379.90,118.48 L378.64,118.21 L377.37,117.95 L376.10,117.69 L374.83,117.43 L373.56,117.17 L372.30,116.91 L371.03,116.65 L369.76,116.40 L368.49,116.14 L367.22,115.88 L365.96,115.62 L364.69,115.37 L363.42,115.11 L362.15,114.86 L360.88,114.60 L359.61,114.35 L358.34,114.10 L357.08,113.85 L355.81,113.60 L354.54,113.35 L353.27,113.10 L352.00,112.85 L350.73,112.60 L349.46,112.35 L348.19,112.10 L346.92,111.86 L345.66,111.61 L344.39,111.36 L343.12,111.12 L341.85,110.88 L340.58,110.63 L339.31,110.39 L338.04,110.15 L336.77,109.91 L335.50,109.67 L334.23,109.43 L332.96,109.19 L331.69,108.95 L330.42,108.71 L329.15,108.48 L327.88,108.24 L326.61,108.01 L325.34,107.77 L324.07,107.54 L322.80,107.30 L321.53,107.07 L320.26,106.84 L318.99,106.61 L317.72,106.38 L316.44,106.15 L315.17,105.93 L313.90,105.70 L312.63,105.47 L311.36,105.25 L310.09,105.02 L308.82,104.80 L307.54,104.58 L306.27,104.36 L305.00,104.14 L303.73,103.92 L302.45,103.70 L301.18,103.49 L299.91,103.27 L298.63,103.06 L297.36,102.84 L296.09,102.63 L294.81,102.42 L293.54,102.21 L292.26,102.01 L290.99,101.80 L289.71,101.59 L288.44,101.39 L287.16,101.19 L285.88,100.99 L284.61,100.79 L283.33,100.59 L282.05,100.39 L280.77,100.20 L279.50,100.01 L278.22,99.81 L276.94,99.62 L275.66,99.44 L274.38,99.25 L273.10,99.06 L271.82,98.88 L270.54,98.70 L269.25,98.52 L267.97,98.34 L266.69,98.16 L265.41,97.99 L264.12,97.82 L262.84,97.64 L261.55,97.47 L260.27,97.31 L258.98,97.14 L257.69,96.98 L256.41,96.82 L255.12,96.66 L253.83,96.50 L252.54,96.34 L251.25,96.19 L249.96,96.04 L248.67,95.89 L247.38,95.74 L246.09,95.59 L244.80,95.45 L243.50,95.31 L242.21,95.17 L240.91,95.04 L239.62,94.90 L238.32,94.77 L237.03,94.64 L235.73,94.51 L234.43,94.39 L233.13,94.26 L231.83,94.14 L230.53,94.02 L229.23,93.91 L227.93,93.80 L226.63,93.69 L225.32,93.58 L224.02,93.47 L222.71,93.37 L221.41,93.27 L220.10,93.18 L218.80,93.09 L217.49,93.01 L216.19,92.93 L214.88,92.85 L213.58,92.78 L212.27,92.72 L210.97,92.66 L209.66,92.61 L208.36,92.57 L207.05,92.53 L205.75,92.50 L204.44,92.47 L203.14,92.46 L201.84,92.45 L200.54,92.45 L199.24,92.46 L197.94,92.47 L196.64,92.50 L195.35,92.53 L194.05,92.58 L192.76,92.63 L191.47,92.70 L190.18,92.77 L188.89,92.86 L187.60,92.95 L186.31,93.06 L185.03,93.18 L183.75,93.31 L182.47,93.45 L181.19,93.61 L179.92,93.77 L178.64,93.95 L177.37,94.15 L176.10,94.35 L174.84,94.57 L173.57,94.81 L172.31,95.06 L171.05,95.32 L169.80,95.60 L168.55,95.89 L167.30,96.20 L166.05,96.52 L164.81,96.86 L163.57,97.22 L162.34,97.59 L161.11,97.98 L159.89,98.39 L158.67,98.81 L157.46,99.25 L156.25,99.71 L155.06,100.18 L153.87,100.68 L152.69,101.19 L151.51,101.72 L150.35,102.27 L149.20,102.84 L148.05,103.43 L146.92,104.04 L145.79,104.67 L144.68,105.31 L143.57,105.98 L142.48,106.66 L141.39,107.36 L140.32,108.08 L139.26,108.82 L138.21,109.57 L137.18,110.34 L136.15,111.13 L135.14,111.93 L134.14,112.75 L133.15,113.58 L132.17,114.43 L131.21,115.30 L130.26,116.18 L129.32,117.08 L128.40,117.99 L127.49,118.92 L126.60,119.85 L125.71,120.81 L124.84,121.77 L123.99,122.75 L123.14,123.74 L122.31,124.74 L121.49,125.75 L120.69,126.77 L119.89,127.80 L119.11,128.85 L118.34,129.90 L117.58,130.96 L116.84,132.02 L116.10,133.10 L115.38,134.18 L114.67,135.27 L113.97,136.37 L113.29,137.48 L112.61,138.59 L111.95,139.71 L111.29,140.83 L110.65,141.96 L110.02,143.10 L109.39,144.24 L108.78,145.39 L108.18,146.54 L107.59,147.70 L107.01,148.86 L106.44,150.03 L105.87,151.20 L105.32,152.37 L104.77,153.55 L104.24,154.74 L103.71,155.93 L103.19,157.12 L102.69,158.31 L102.18,159.51 L101.69,160.71 L101.21,161.92 L100.73,163.13 L100.26,164.33 L99.80,165.55 L99.35,166.76 L98.90,167.98 L98.46,169.19 L98.03,170.41 L97.60,171.63 L97.18,172.86 L96.77,174.08 L96.36,175.31 L95.96,176.54 L95.56,177.77 L95.17,179.00 L94.79,180.23 L94.41,181.47 L94.03,182.70 L93.66,183.94 L93.29,185.18 L92.93,186.42 L92.57,187.66 L92.22,188.90 L91.87,190.15 L91.52,191.39 L91.18,192.64 L90.83,193.88 L90.50,195.13 L90.16,196.38 L89.83,197.63 L89.50,198.88 L89.17,200.13 L88.85,201.38 L88.52,202.63 L88.20,203.88 L87.89,205.14 L87.57,206.39 L87.26,207.65 L86.95,208.90 L86.64,210.16 L86.34,211.42 L86.04,212.68 L85.74,213.93 L85.44,215.19 L85.14,216.45 L84.85,217.71 L84.56,218.98 L84.27,220.24 L83.98,221.50 L83.70,222.76 L83.41,224.03 L83.13,225.29 L82.85,226.56 L82.58,227.82 L82.30,229.09 L82.03,230.35 L81.76,231.62 L81.49,232.89 L81.22,234.15 L80.95,235.42 L80.69,236.69 L80.42,237.96 L80.16,239.23 L79.90,240.50 L79.64,241.77 L79.39,243.04 L79.13,244.31 L78.88,245.58 L78.63,246.85 L78.37,248.12 L78.13,249.40 L77.88,250.67 L77.63,251.94 L77.38,253.21 L77.14,254.49 L76.90,255.76 L76.65,257.03 L76.41,258.31 L76.17,259.58 L75.93,260.85 L75.69,262.13 L75.46,263.40 L75.22,264.68 L74.99,265.95 L74.75,267.22 L74.52,268.50 L74.29,269.77 L74.06,271.05 L73.83,272.33 L73.60,273.60 L73.38,274.88 L73.15,276.15 L72.92,277.43 L72.70,278.71 L72.48,279.98 L72.26,281.26 L72.04,282.54 L71.82,283.81 L71.60,285.09 L71.38,286.37 L71.16,287.64 L70.95,288.92 L70.74,290.20 L70.52,291.48 L70.31,292.76 L70.10,294.03 L69.89,295.31 L69.68,296.59 L69.47,297.87 L69.27,299.15 L69.06,300.43 L68.86,301.71 L68.65,302.99 L68.45,304.27 L68.25,305.55 L68.05,306.83 L67.85,308.11 L67.66,309.39 L67.46,310.67 L67.26,311.95 L67.07,313.23 L66.88,314.51 L66.68,315.79 L66.49,317.07 L66.30,318.35 L66.11,319.63 L65.93,320.92 L65.74,322.20 L65.55,323.48 L65.37,324.76 L65.18,326.04 L65.00,327.33 L64.82,328.61 L64.64,329.89 L64.46,331.17 L64.28,332.46 L64.11,333.74 L63.93,335.02 L63.76,336.31 L63.58,337.59 L63.41,338.87 L63.24,340.16 L63.07,341.44 L62.90,342.73 L62.73,344.01 L62.56,345.29 L62.40,346.58 L62.23,347.86Z" fill="#00a000" fill-opacity="0.3" stroke="none"/>
<path d="M62.30,347.77 L62.46,346.48 L62.62,345.19 L62.79,343.90 L62.95,342.61 L63.12,341.32 L63.29,340.03 L63.45,338.74 L63.62,337.45 L63.79,336.16 L63.96,334.87 L64.13,333.58 L64.30,332.29 L64.47,331.00 L64.64,329.71 L64.82,328.42 L64.99,327.13 L65.17,325.84 L65.34,324.55 L65.52,323.26 L65.70,321.97 L65.87,320.68 L66.05,319.39 L66.23,318.10 L66.41,316.81 L66.60,315.52 L66.78,314.23 L66.96,312.94 L67.15,311.66 L67.33,310.37 L67.52,309.08 L67.71,307.79 L67.90,306.50 L68.08,305.22 L68.28,303.93 L68.47,302.64 L68.66,301.35 L68.85,300.07 L69.05,298.78 L69.24,297.49 L69.44,296.21 L69.64,294.92 L69.84,293.63 L70.04,292.35 L70.24,291.06 L70.44,289.78 L70.64,288.49 L70.85,287.20 L71.05,285.92 L71.26,284.63 L71.47,283.35 L71.68,282.06 L71.89,280.78 L72.10,279.50 L72.31,278.21 L72.53,276.93 L72.74,275.65 L72.96,274.36 L73.18,273.08 L73.39,271.80 L73.61,270.51 L73.84,269.23 L74.06,267.95 L74.28,266.67 L74.51,265.39 L74.74,264.11 L74.97,262.82 L75.20,261.54 L75.43,260.26 L75.66,258.98 L75.89,257.70 L76.13,256.42 L76.37,255.14 L76.60,253.87 L76.84,252.59 L77.09,251.31 L77.33,250.03 L77.57,248.75 L77.82,247.47 L78.07,246.20 L78.31,244.92 L78.56,243.64 L78.82,242.37 L79.07,241.09 L79.33,239.82 L79.58,238.54 L79.84,237.26 L80.10,235.99 L80.36,234.72 L80.62,233.44 L80.89,232.17 L81.16,230.89 L81.42,229.62 L81.69,228.35 L81.96,227.08 L82.24,225.80 L82.51,224.53 L82.79,223.26 L83.07,221.99 L83.35,220.72 L83.63,219.45 L83.91,218.18 L84.20,216.91 L84.48,215.64 L84.77,214.37 L85.06,213.11 L85.36,211.84 L85.65,210.57 L85.95,209.30 L86.24,208.04 L86.54,206.77 L86.85,205.51 L87.15,204.24 L87.45,202.98 L87.76,201.71 L88.07,200.45 L88.38,199.18 L88.70,197.92 L89.01,196.66 L89.33,195.40 L89.65,194.13 L89.97,192.87 L90.29,191.61 L90.62,190.35 L90.94,189.09 L91.27,187.83 L91.60,186.57 L91.94,185.32 L92.27,184.06 L92.61,182.80 L92.95,181.54 L93.29,180.29 L93.64,179.03 L93.98,177.77 L94.33,176.52 L94.68,175.26 L95.03,174.01 L95.39,172.76 L95.76,171.51 L96.12,170.26 L96.50,169.02 L96.88,167.77 L97.27,166.53 L97.66,165.30 L98.07,164.06 L98.48,162.84 L98.90,161.61 L99.34,160.39 L99.78,159.18 L100.24,157.97 L100.71,156.77 L101.19,155.57 L101.69,154.38 L102.20,153.19 L102.73,152.02 L103.27,150.85 L103.82,149.68 L104.39,148.52 L104.98,147.37 L105.57,146.23 L106.18,145.09 L106.80,143.95 L107.42,142.81 L108.06,141.68 L108.70,140.55 L109.35,139.43 L110.01,138.30 L110.67,137.17 L111.33,136.05 L112.00,134.92 L112.67,133.80 L113.34,132.67 L114.02,131.54 L114.69,130.41 L115.37,129.28 L116.05,128.15 L116.73,127.02 L117.42,125.89 L118.11,124.77 L118.81,123.65 L119.51,122.53 L120.22,121.42 L120.93,120.31 L121.65,119.21 L122.38,118.11 L123.11,117.02 L123.86,115.94 L124.61,114.87 L125.37,113.81 L126.14,112.76 L126.92,111.72 L127.71,110.69 L128.52,109.67 L129.33,108.66 L130.16,107.67 L131.00,106.69 L131.85,105.73 L132.72,104.78 L133.60,103.85 L134.49,102.93 L135.40,102.03 L136.33,101.15 L137.27,100.29 L138.23,99.45 L139.21,98.62 L140.20,97.82 L141.21,97.04 L142.24,96.27 L143.29,95.53 L144.35,94.81 L145.42,94.10 L146.51,93.41 L147.61,92.74 L148.73,92.08 L149.85,91.44 L150.99,90.81 L152.14,90.20 L153.30,89.60 L154.47,89.01 L155.65,88.44 L156.83,87.87 L158.03,87.32 L159.23,86.78 L160.43,86.25 L161.64,85.72 L162.86,85.21 L164.08,84.70 L165.30,84.20 L166.53,83.71 L167.76,83.22 L168.99,82.73 L170.22,82.25 L171.45,81.78 L172.68,81.31 L173.91,80.84 L175.14,80.37 L176.37,79.90 L177.59,79.44 L178.81,78.98 L180.03,78.52 L181.24,78.06 L182.46,77.61 L183.67,77.17 L184.89,76.74 L186.11,76.33 L187.33,75.92 L188.55,75.53 L189.78,75.15 L191.01,74.79 L192.25,74.45 L193.49,74.13 L194.74,73.84 L195.99,73.56 L197.25,73.31 L198.52,73.08 L199.79,72.87 L201.07,72.68 L202.36,72.51 L203.64,72.35 L204.94,72.20 L206.23,72.06 L207.53,71.93 L208.82,71.81 L210.12,71.69 L211.42,71.58 L212.72,71.46 L214.02,71.35 L215.32,71.24 L216.62,71.13 L217.92,71.03 L219.22,70.92 L220.52,70.82 L221.82,70.72 L223.12,70.62 L224.42,70.52 L225.72,70.42 L227.02,70.32 L228.32,70.23 L229.62,70.13 L230.92,70.04 L232.22,69.95 L233.52,69.86 L234.82,69.77 L236.12,69.69 L237.42,69.60 L238.72,69.52 L240.02,69.44 L241.31,69.36 L242.61,69.28 L243.91,69.20 L245.21,69.12 L246.51,69.05 L247.81,68.97 L249.11,68.90 L250.41,68.83 L251.72,68.75 L253.02,68.69 L254.32,68.62 L255.62,68.55 L256.92,68.48 L258.22,68.42 L259.52,68.35 L260.82,68.29 L262.12,68.23 L263.42,68.17 L264.72,68.11 L266.02,68.05 L267.32,67.99 L268.62,67.94 L269.92,67.88 L271.22,67.83 L272.52,67.78 L273.82,67.72 L275.12,67.67 L276.42,67.62 L277.72,67.57 L279.02,67.52 L280.32,67.48 L281.62,67.43 L282.92,67.39 L284.22,67.34 L285.52,67.30 L286.82,67.25 L288.12,67.21 L289.43,67.17 L290.73,67.13 L292.03,67.09 L293.33,67.05 L294.63,67.01 L295.93,66.98 L297.23,66.94 L298.53,66.90 L299.83,66.87 L301.13,66.83 L302.43,66.80 L303.73,66.77 L305.03,66.74 L306.33,66.70 L307.63,66.67 L308.94,66.64 L310.24,66.61 L311.54,66.58 L312.84,66.55 L314.14,66.53 L315.44,66.50 L316.74,66.47 L318.04,66.45 L319.34,66.42 L320.64,66.40 L321.94,66.37 L323.24,66.35 L324.54,66.32 L325.85,66.30 L327.15,66.28 L328.45,66.25 L329.75,66.23 L331.05,66.21 L332.35,66.19 L333.65,66.17 L334.95,66.15 L336.25,66.13 L337.55,66.11 L338.85,66.09 L340.16,66.07 L341.46,66.05 L342.76,66.03 L344.06,66.01 L345.36,66.00 L346.66,65.98 L347.96,65.96 L349.26,65.94 L350.56,65.93 L351.86,65.91 L353.17,65.89 L354.47,65.88 L355.77,65.86 L357.07,65.84 L358.37,65.83 L359.67,65.81 L360.97,65.80 L362.27,65.78 L363.57,65.77 L364.87,65.75 L366.18,65.73 L367.48,65.72 L368.78,65.70 L370.08,65.69 L371.38,65.67 L372.68,65.66 L373.98,65.64 L375.28,65.63 L376.58,65.61 L377.89,65.60 L379.19,65.58 L380.49,65.57 L381.79,65.55 L383.09,65.54 L384.39,65.52 L385.69,65.51 L386.99,65.49 L388.29,65.48 L389.59,65.46 L390.90,65.45 L392.20,65.43 L393.50,65.42 L394.80,65.40 L396.10,65.39 L397.40,65.37 L398.70,65.36 L400.00,65.35 L401.30,65.33 L402.61,65.32 L403.91,65.30 L405.21,65.29 L406.51,65.27 L407.81,65.26 L409.11,65.25 L410.41,65.23 L411.71,65.22 L413.01,65.20 L414.32,65.19 L415.62,65.18 L416.92,65.16 L418.22,65.15 L419.52,65.14 L420.82,65.12 L422.12,65.11 L423.42,65.10 L424.72,65.08 L426.03,65.07 L427.33,65.06 L428.63,65.04 L429.93,65.03 L431.23,65.02 L432.53,65.00 L433.83,64.99 L435.13,64.98 L436.43,64.96 L437.73,64.95 L439.04,64.94 L440.34,64.93 L441.64,64.91 L442.94,64.90 L444.24,64.89 L445.54,64.88 L446.84,64.87 L448.14,64.85 L449.44,64.84 L450.75,64.83 L452.05,64.82 L453.35,64.81 L454.65,64.79 L455.95,64.78 L457.25,64.77 L458.55,64.76 L459.85,64.75 L461.16,64.74 L462.46,64.72 L463.76,64.71 L465.06,64.70 L466.36,64.69 L467.66,64.68 L468.96,64.67 L470.26,64.66 L471.56,64.65 L472.87,64.64 L474.17,64.63 L475.47,64.62 L476.77,64.61 L478.07,64.60 L479.37,64.59 L480.67,64.58 L481.97,64.57 L483.27,64.56 L484.58,64.55 L485.88,64.54 L487.18,64.53 L488.48,64.52 L489.78,64.51 L491.08,64.50 L492.38,64.49 L493.68,64.48 L494.98,64.47 L496.29,64.46 L497.59,64.46 L498.89,64.45 L500.19,64.44 L501.49,64.43 L502.79,64.42 L504.09,64.41 L505.39,64.41 L506.70,64.40 L508.00,64.39 L509.30,64.38 L510.60,64.37 L511.90,64.37 L513.20,64.36 L514.50,64.35 L515.80,64.34 L517.10,64.34 L518.41,64.33 L519.71,64.32 L521.01,64.32 L522.31,64.31 L523.61,64.30 L524.91,64.30 L526.21,64.29 L527.51,64.28 L528.82,64.28 L530.12,64.27 L531.42,64.27 L532.72,64.26 L534.02,64.26 L535.32,64.25 L536.62,64.24 L537.92,64.24 L539.22,64.23 L540.53,64.23 L541.83,64.22 L543.13,64.22 L544.43,64.22 L545.73,64.21 L547.03,64.21 L548.33,64.20 L549.63,64.20 L550.94,64.19 L552.24,64.19 L553.54,64.19 L554.84,64.18 L556.14,64.18 L557.44,64.18 L558.74,64.17 L560.04,64.17 L561.34,64.17 L562.65,64.16 L563.95,64.16 L565.25,64.16 L566.55,64.16 L567.85,64.16 L569.15,64.15 L570.45,64.15 L571.75,64.15 L573.06,64.15 L574.36,64.15 L575.66,64.15 L576.96,64.14 L578.26,64.14 L579.56,64.14 L580.86,64.14 L582.16,64.14 L583.46,64.14 L584.77,64.14 L586.07,64.14 L587.37,64.14 L588.67,64.14 L589.97,64.14 L591.27,64.14 L592.57,64.14 L593.87,64.14 L595.18,64.14 L596.48,64.14 L597.78,64.15 L599.08,64.15 L600.38,64.15 L601.68,64.15 L602.98,64.15 L604.28,64.15 L605.58,64.16 L606.89,64.16 L608.19,64.16 L609.49,64.16 L610.79,64.17 L612.09,64.17 L613.39,64.17 L614.69,64.18 L615.99,64.18 L617.30,64.18 L618.60,64.19 L619.90,64.19 L621.20,64.20 L622.50,64.20" fill="none" stroke="#00a000" stroke-width="3.0" stroke-linejoin="round"/>
<path d="M62.23,347.86 L62.40,346.58 L62.56,345.29 L62.73,344.01 L62.90,342.73 L63.07,341.44 L63.24,340.16 L63.41,338.87 L63.58,337.59 L63.76,336.31 L63.93,335.02 L64.11,333.74 L64.28,332.46 L64.46,331.17 L64.64,329.89 L64.82,328.61 L65.00,327.33 L65.18,326.04 L65.37,324.76 L65.55,323.48 L65.74,322.20 L65.93,320.92 L66.11,319.63 L66.30,318.35 L66.49,317.07 L66.68,315.79 L66.88,314.51 L67.07,313.23 L67.26,311.95 L67.46,310.67 L67.66,309.39 L67.85,308.11 L68.05,306.83 L68.25,305.55 L68.45,304.27 L68.65,302.99 L68.86,301.71 L69.06,300.43 L69.27,299.15 L69.47,297.87 L69.68,296.59 L69.89,295.31 L70.10,294.03 L70.31,292.76 L70.52,291.48 L70.74,290.20 L70.95,288.92 L71.16,287.64 L71.38,286.37 L71.60,285.09 L71.82,283.81 L72.04,282.54 L72.26,281.26 L72.48,279.98 L72.70,278.71 L72.92,277.43 L73.15,276.15 L73.38,274.88 L73.60,273.60 L73.83,272.33 L74.06,271.05 L74.29,269.77 L74.52,268.50 L74.75,267.22 L74.99,265.95 L75.22,264.68 L75.46,263.40 L75.69,262.13 L75.93,260.85 L76.17,259.58 L76.41,258.31 L76.65,257.03 L76.90,255.76 L77.14,254.49 L77.38,253.21 L77.63,251.94 L77.88,250.67 L78.13,249.40 L78.37,248.12 L78.63,246.85 L78.88,245.58 L79.13,244.31 L79.39,243.04 L79.64,241.77 L79.90,240.50 L80.16,239.23 L80.42,237.96 L80.69,236.69 L80.95,235.42 L81.22,234.15 L81.49,232.89 L81.76,231.62 L82.03,230.35 L82.30,229.09 L82.58,227.82 L82.85,226.56 L83.13,225.29 L83.41,224.03 L83.70,222.76 L83.98,221.50 L84.27,220.24 L84.56,218.98 L84.85,217.71 L85.14,216.45 L85.44,215.19 L85.74,213.93 L86.04,212.68 L86.34,211.42 L86.64,210.16 L86.95,208.90 L87.26,207.65 L87.57,206.39 L87.89,205.14 L88.20,203.88 L88.52,202.63 L88.85,201.38 L89.17,200.13 L89.50,198.88 L89.83,197.63 L90.16,196.38 L90.50,195.13 L90.83,193.88 L91.18,192.64 L91.52,191.39 L91.87,190.15 L92.22,188.90 L92.57,187.66 L92.93,186.42 L93.29,185.18 L93.66,183.94 L94.03,182.70 L94.41,181.47 L94.79,180.23 L95.17,179.00 L95.56,177.77 L95.96,176.54 L96.36,175.31 L96.77,174.08 L97.18,172.86 L97.60,171.63 L98.03,170.41 L98.46,169.19 L98.90,167.98 L99.35,166.76 L99.80,165.55 L100.26,164.33 L100.73,163.13 L101.21,161.92 L101.69,160.71 L102.18,159.51 L102.69,158.31 L103.19,157.12 L103.71,155.93 L104.24,154.74 L104.77,153.55 L105.32,152.37 L105.87,151.20 L106.44,150.03 L107.01,148.86 L107.59,147.70 L108.18,146.54 L108.78,145.39 L109.39,144.24 L110.02,143.10 L110.65,141.96 L111.29,140.83 L111.95,139.71 L112.61,138.59 L113.29,137.48 L113.97,136.37 L114.67,135.27 L115.38,134.18 L116.10,133.10 L116.84,132.02 L117.58,130.96 L118.34,129.90 L119.11,128.85 L119.89,127.80 L120.69,126.77 L121.49,125.75 L122.31,124.74 L123.14,123.74 L123.99,122.75 L124.84,121.77 L125.71,120.81 L126.60,119.85 L127.49,118.92 L128.40,117.99 L129.32,117.08 L130.26,116.18 L131.21,115.30 L132.17,114.43 L133.15,113.58 L134.14,112.75 L135.14,111.93 L136.15,111.13 L137.18,110.34 L138.21,109.57 L139.26,108.82 L140.32,108.08 L141.39,107.36 L142.48,106.66 L143.57,105.98 L144.68,105.31 L145.79,104.67 L146.92,104.04 L148.05,103.43 L149.20,102.84 L150.35,102.27 L151.51,101.72 L152.69,101.19 L153.87,100.68 L155.06,100.18 L156.25,99.71 L157.46,99.25 L158.67,98.81 L159.89,98.39 L161.11,97.98 L162.34,97.59 L163.57,97.22 L164.81,96.86 L166.05,96.52 L167.30,96.20 L168.55,95.89 L169.80,95.60 L171.05,95.32 L172.31,95.06 L173.57,94.81 L174.84,94.57 L176.10,94.35 L177.37,94.15 L178.64,93.95 L179.92,93.77 L181.19,93.61 L182.47,93.45 L183.75,93.31 L185.03,93.18 L186.31,93.06 L187.60,92.95 L188.89,92.86 L190.18,92.77 L191.47,92.70 L192.76,92.63 L194.05,92.58 L195.35,92.53 L196.64,92.50 L197.94,92.47 L199.24,92.46 L200.54,92.45 L201.84,92.45 L203.14,92.46 L204.44,92.47 L205.75,92.50 L207.05,92.53 L208.36,92.57 L209.66,92.61 L210.97,92.66 L212.27,92.72 L213.58,92.78 L214.88,92.85 L216.19,92.93 L217.49,93.01 L218.80,93.09 L220.10,93.18 L221.41,93.27 L222.71,93.37 L224.02,93.47 L225.32,93.58 L226.63,93.69 L227.93,93.80 L229.23,93.91 L230.53,94.02 L231.83,94.14 L233.13,94.26 L234.43,94.39 L235.73,94.51 L237.03,94.64 L238.32,94.77 L239.62,94.90 L240.91,95.04 L242.21,95.17 L243.50,95.31 L244.80,95.45 L246.09,95.59 L247.38,95.74 L248.67,95.89 L249.96,96.04 L251.25,96.19 L252.54,96.34 L253.83,96.50 L255.12,96.66 L256.41,96.82 L257.69,96.98 L258.98,97.14 L260.27,97.31 L261.55,97.47 L262.84,97.64 L264.12,97.82 L265.41,97.99 L266.69,98.16 L267.97,98.34 L269.25,98.52 L270.54,98.70 L271.82,98.88 L273.10,99.06 L274.38,99.25 L275.66,99.44 L276.94,99.62 L278.22,99.81 L279.50,100.01 L280.77,100.20 L282.05,100.39 L283.33,100.59 L284.61,100.79 L285.88,100.99 L287.16,101.19 L288.44,101.39 L289.71,101.59 L290.99,101.80 L292.26,102.01 L293.54,102.21 L294.81,102.42 L296.09,102.63 L297.36,102.84 L298.63,103.06 L299.91,103.27 L301.18,103.49 L302.45,103.70 L303.73,103.92 L305.00,104.14 L306.27,104.36 L307.54,104.58 L308.82,104.80 L310.09,105.02 L311.36,105.25 L312.63,105.47 L313.90,105.70 L315.17,105.93 L316.44,106.15 L317.72,106.38 L318.99,106.61 L320.26,106.84 L321.53,107.07 L322.80,107.30 L324.07,107.54 L325.34,107.77 L326.61,108.01 L327.88,108.24 L329.15,108.48 L330.42,108.71 L331.69,108.95 L332.96,109.19 L334.23,109.43 L335.50,109.67 L336.77,109.91 L338.04,110.15 L339.31,110.39 L340.58,110.63 L341.85,110.88 L343.12,111.12 L344.39,111.36 L345.66,111.61 L346.92,111.86 L348.19,112.10 L349.46,112.35 L350.73,112.60 L352.00,112.85 L353.27,113.10 L354.54,113.35 L355.81,113.60 L357.08,113.85 L358.34,114.10 L359.61,114.35 L360.88,114.60 L362.15,114.86 L363.42,115.11 L364.69,115.37 L365.96,115.62 L367.22,115.88 L368.49,116.14 L369.76,116.40 L371.03,116.65 L372.30,116.91 L373.56,117.17 L374.83,117.43 L376.10,117.69 L377.37,117.95 L378.64,118.21 L379.90,118.48 L381.17,118.74 L382.44,119.00 L383.71,119.27 L384.97,119.53 L386.24,119.80 L387.51,120.06 L388.78,120.33 L390.04,120.59 L391.31,120.86 L392.58,121.13 L393.84,121.40 L395.11,121.67 L396.38,121.94 L397.64,122.21 L398.91,122.48 L400.18,122.75 L401.44,123.02 L402.71,123.29 L403.98,123.56 L405.24,123.83 L406.51,124.11 L407.78,124.38 L409.04,124.65 L410.31,124.93 L411.58,125.20 L412.84,125.48 L414.11,125.75 L415.38,126.03 L416.64,126.31 L417.91,126.58 L419.17,126.86 L420.44,127.14 L421.71,127.42 L422.97,127.70 L424.24,127.98 L425.50,128.25 L426.77,128.53 L428.03,128.81 L429.30,129.10 L430.57,129.38 L431.83,129.66 L433.10,129.94 L434.36,130.22 L435.63,130.50 L436.89,130.79 L438.16,131.07 L439.42,131.35 L440.69,131.64 L441.95,131.92 L443.22,132.21 L444.48,132.49 L445.75,132.78 L447.01,133.06 L448.28,133.35 L449.54,133.63 L450.81,133.92 L452.07,134.21 L453.34,134.49 L454.60,134.78 L455.87,135.07 L457.13,135.35 L458.40,135.64 L459.66,135.93 L460.92,136.22 L462.19,136.51 L463.45,136.80 L464.72,137.09 L465.98,137.38 L467.25,137.67 L468.51,137.96 L469.77,138.25 L471.04,138.54 L472.30,138.83 L473.57,139.12 L474.83,139.41 L476.09,139.70 L477.36,139.99 L478.62,140.28 L479.89,140.58 L481.15,140.87 L482.41,141.16 L483.68,141.45 L484.94,141.75 L486.20,142.04 L487.47,142.33 L488.73,142.62 L490.00,142.92 L491.26,143.21 L492.52,143.50 L493.79,143.80 L495.05,144.09 L496.31,144.39 L497.58,144.68 L498.84,144.97 L500.10,145.27 L501.37,145.56 L502.63,145.86 L503.89,146.15 L505.15,146.45 L506.42,146.74 L507.68,147.04 L508.94,147.33 L510.21,147.63 L511.47,147.92 L512.73,148.22 L514.00,148.51 L515.26,148.81 L516.52,149.10 L517.78,149.40 L519.05,149.69 L520.31,149.99 L521.57,150.28 L522.83,150.58 L524.10,150.87 L525.36,151.17 L526.62,151.47 L527.88,151.76 L529.15,152.06 L530.41,152.35 L531.67,152.65 L532.93,152.94 L534.20,153.24 L535.46,153.53 L536.72,153.83 L537.98,154.13 L539.25,154.42 L540.51,154.72 L541.77,155.01 L543.03,155.31 L544.29,155.60 L545.56,155.90 L546.82,156.19 L548.08,156.49 L549.34,156.78 L550.60,157.08 L551.87,157.37 L553.13,157.67 L554.39,157.96 L555.65,158.26 L556.91,158.55 L558.18,158.84 L559.44,159.14 L560.70,159.43 L561.96,159.73 L563.22,160.02 L564.48,160.31 L565.75,160.61 L567.01,160.90 L568.27,161.19 L569.53,161.49 L570.79,161.78 L572.05,162.07 L573.32,162.37 L574.58,162.66 L575.84,162.95 L577.10,163.24 L578.36,163.53 L579.62,163.83 L580.88,164.12 L582.15,164.41 L583.41,164.70 L584.67,164.99 L585.93,165.28 L587.19,165.57 L588.45,165.86 L589.71,166.15 L590.97,166.44 L592.24,166.73 L593.50,167.02 L594.76,167.31 L596.02,167.60 L597.28,167.89 L598.54,168.18 L599.80,168.46 L601.06,168.75 L602.32,169.04 L603.59,169.33 L604.85,169.61 L606.11,169.90 L607.37,170.19 L608.63,170.47 L609.89,170.76 L611.15,171.04 L612.41,171.33 L613.67,171.61 L614.93,171.90 L616.20,172.18 L617.46,172.47 L618.72,172.75 L619.98,173.03 L621.24,173.32 L622.50,173.60" fill="none" stroke="#00a000" stroke-width="3.0" stroke-linejoin="round"/>
<path d="M62.14,341.77 L62.28,340.44 L62.41,339.11 L62.55,337.79 L62.68,336.46 L62.82,335.13 L62.96,333.81 L63.10,332.48 L63.24,331.15 L63.38,329.83 L63.52,328.50 L63.66,327.17 L63.80,325.85 L63.94,324.52 L64.09,323.19 L64.23,321.87 L64.38,320.54 L64.52,319.22 L64.67,317.89 L64.82,316.56 L64.97,315.24 L65.12,313.91 L65.27,312.59 L65.42,311.26 L65.57,309.94 L65.72,308.61 L65.88,307.29 L66.03,305.96 L66.19,304.63 L66.34,303.31 L66.50,301.98 L66.66,300.66 L66.82,299.33 L66.98,298.01 L67.14,296.68 L67.30,295.36 L67.46,294.04 L67.62,292.71 L67.78,291.39 L67.95,290.06 L68.11,288.74 L68.28,287.41 L68.44,286.09 L68.61,284.77 L68.78,283.44 L68.94,282.12 L69.11,280.79 L69.28,279.47 L69.45,278.15 L69.63,276.82 L69.80,275.50 L69.97,274.18 L70.14,272.86 L70.32,271.53 L70.49,270.21 L70.67,268.89 L70.85,267.56 L71.02,266.24 L71.20,264.92 L71.38,263.60 L71.56,262.27 L71.74,260.95 L71.92,259.63 L72.10,258.31 L72.29,256.99 L72.47,255.67 L72.65,254.34 L72.84,253.02 L73.03,251.70 L73.21,250.38 L73.40,249.06 L73.59,247.74 L73.78,246.42 L73.96,245.10 L74.15,243.78 L74.35,242.46 L74.54,241.14 L74.73,239.82 L74.92,238.50 L75.12,237.18 L75.31,235.86 L75.51,234.54 L75.70,233.22 L75.90,231.90 L76.10,230.58 L76.29,229.26 L76.49,227.94 L76.69,226.62 L76.89,225.30 L77.09,223.98 L77.29,222.67 L77.50,221.35 L77.70,220.03 L77.90,218.71 L78.11,217.39 L78.32,216.08 L78.52,214.76 L78.73,213.44 L78.94,212.13 L79.15,210.81 L79.37,209.49 L79.58,208.18 L79.80,206.86 L80.02,205.55 L80.24,204.23 L80.46,202.92 L80.69,201.61 L80.91,200.29 L81.14,198.98 L81.38,197.67 L81.61,196.36 L81.85,195.05 L82.09,193.74 L82.33,192.43 L82.58,191.12 L82.83,189.81 L83.08,188.51 L83.34,187.20 L83.60,185.89 L83.87,184.59 L84.14,183.28 L84.41,181.98 L84.68,180.68 L84.96,179.38 L85.25,178.08 L85.54,176.78 L85.83,175.48 L86.13,174.18 L86.43,172.88 L86.74,171.59 L87.05,170.29 L87.36,169.00 L87.69,167.71 L88.01,166.42 L88.35,165.13 L88.68,163.84 L89.03,162.55 L89.37,161.26 L89.73,159.98 L90.09,158.69 L90.45,157.41 L90.83,156.13 L91.20,154.85 L91.59,153.57 L91.98,152.30 L92.38,151.02 L92.78,149.75 L93.19,148.47 L93.61,147.20 L94.03,145.93 L94.46,144.66 L94.89,143.40 L95.33,142.13 L95.78,140.87 L96.23,139.61 L96.69,138.35 L97.15,137.09 L97.62,135.84 L98.10,134.59 L98.58,133.34 L99.07,132.09 L99.56,130.84 L100.06,129.60 L100.56,128.36 L101.08,127.13 L101.60,125.89 L102.13,124.67 L102.67,123.45 L103.21,122.23 L103.77,121.02 L104.34,119.82 L104.92,118.62 L105.51,117.43 L106.12,116.25 L106.74,115.07 L107.37,113.91 L108.01,112.75 L108.67,111.60 L109.35,110.46 L110.04,109.33 L110.75,108.22 L111.47,107.11 L112.21,106.01 L112.96,104.93 L113.73,103.85 L114.52,102.79 L115.32,101.73 L116.13,100.69 L116.96,99.66 L117.80,98.64 L118.66,97.63 L119.53,96.63 L120.42,95.64 L121.32,94.66 L122.23,93.70 L123.15,92.74 L124.09,91.80 L125.04,90.87 L126.00,89.95 L126.98,89.04 L127.96,88.14 L128.96,87.25 L129.97,86.38 L130.99,85.51 L132.02,84.66 L133.07,83.82 L134.12,82.99 L135.18,82.17 L136.26,81.37 L137.34,80.58 L138.44,79.80 L139.54,79.04 L140.65,78.28 L141.77,77.55 L142.90,76.82 L144.04,76.11 L145.19,75.41 L146.35,74.73 L147.51,74.06 L148.68,73.41 L149.86,72.77 L151.05,72.14 L152.24,71.53 L153.44,70.94 L154.65,70.36 L155.86,69.80 L157.08,69.25 L158.30,68.72 L159.53,68.21 L160.77,67.71 L162.02,67.23 L163.26,66.77 L164.52,66.32 L165.78,65.90 L167.04,65.49 L168.31,65.10 L169.58,64.73 L170.86,64.38 L172.15,64.04 L173.44,63.73 L174.73,63.43 L176.03,63.15 L177.33,62.89 L178.63,62.64 L179.94,62.41 L181.25,62.18 L182.56,61.98 L183.87,61.78 L185.19,61.59 L186.51,61.42 L187.83,61.25 L189.15,61.09 L190.48,60.94 L191.80,60.80 L193.13,60.66 L194.46,60.52 L195.78,60.40 L197.11,60.27 L198.44,60.15 L199.77,60.03 L201.09,59.91 L202.42,59.80 L203.75,59.69 L205.08,59.58 L206.41,59.48 L207.74,59.38 L209.07,59.28 L210.40,59.19 L211.73,59.09 L213.06,59.01 L214.38,58.92 L215.71,58.84 L217.04,58.76 L218.38,58.68 L219.71,58.61 L221.04,58.53 L222.37,58.47 L223.70,58.40 L225.03,58.34 L226.36,58.27 L227.69,58.22 L229.02,58.16 L230.35,58.11 L231.69,58.05 L233.02,58.01 L234.35,57.96 L235.68,57.91 L237.01,57.87 L238.35,57.83 L239.68,57.80 L241.01,57.76 L242.34,57.73 L243.68,57.70 L245.01,57.67 L246.34,57.64 L247.68,57.61 L249.01,57.59 L250.34,57.57 L251.68,57.55 L253.01,57.53 L254.34,57.52 L255.68,57.50 L257.01,57.49 L258.34,57.48 L259.68,57.47 L261.01,57.46 L262.35,57.46 L263.68,57.45 L265.01,57.45 L266.35,57.45 L267.68,57.45 L269.02,57.45 L270.35,57.45 L271.69,57.46 L273.02,57.46 L274.36,57.47 L275.69,57.48 L277.02,57.49 L278.36,57.50 L279.69,57.51 L281.03,57.52 L282.36,57.54 L283.70,57.55 L285.03,57.57 L286.37,57.58 L287.70,57.60 L289.04,57.62 L290.37,57.64 L291.71,57.66 L293.04,57.68 L294.38,57.70 L295.72,57.72 L297.05,57.75 L298.39,57.77 L299.72,57.79 L301.06,57.82 L302.39,57.84 L303.73,57.87 L305.06,57.89 L306.40,57.92 L307.73,57.95 L309.07,57.97 L310.40,58.00 L311.74,58.03 L313.07,58.06 L314.41,58.08 L315.74,58.11 L317.08,58.14 L318.41,58.17 L319.75,58.20 L321.08,58.23 L322.42,58.25 L323.75,58.28 L325.09,58.31 L326.42,58.34 L327.76,58.36 L329.09,58.39 L330.43,58.42 L331.76,58.45 L333.10,58.47 L334.43,58.50 L335.77,58.53 L337.10,58.56 L338.44,58.58 L339.77,58.61 L341.11,58.64 L342.44,58.66 L343.77,58.69 L345.11,58.71 L346.44,58.74 L347.78,58.77 L349.11,58.79 L350.45,58.82 L351.78,58.84 L353.11,58.87 L354.45,58.89 L355.78,58.92 L357.12,58.94 L358.45,58.97 L359.79,58.99 L361.12,59.02 L362.45,59.04 L363.79,59.07 L365.12,59.09 L366.46,59.12 L367.79,59.14 L369.12,59.16 L370.46,59.19 L371.79,59.21 L373.13,59.24 L374.46,59.26 L375.79,59.28 L377.13,59.31 L378.46,59.33 L379.79,59.35 L381.13,59.37 L382.46,59.40 L383.80,59.42 L385.13,59.44 L386.46,59.46 L387.80,59.49 L389.13,59.51 L390.46,59.53 L391.80,59.55 L393.13,59.57 L394.46,59.60 L395.80,59.62 L397.13,59.64 L398.46,59.66 L399.80,59.68 L401.13,59.70 L402.46,59.72 L403.80,59.74 L405.13,59.76 L406.46,59.78 L407.80,59.80 L409.13,59.82 L410.46,59.84 L411.80,59.86 L413.13,59.88 L414.46,59.90 L415.80,59.92 L417.13,59.94 L418.46,59.96 L419.80,59.98 L421.13,60.00 L422.46,60.01 L423.80,60.03 L425.13,60.05 L426.46,60.07 L427.80,60.09 L429.13,60.10 L430.46,60.12 L431.80,60.14 L433.13,60.16 L434.46,60.17 L435.79,60.19 L437.13,60.21 L438.46,60.23 L439.79,60.24 L441.13,60.26 L442.46,60.27 L443.79,60.29 L445.13,60.31 L446.46,60.32 L447.79,60.34 L449.12,60.35 L450.46,60.37 L451.79,60.38 L453.12,60.40 L454.46,60.41 L455.79,60.43 L457.12,60.44 L458.46,60.46 L459.79,60.47 L461.12,60.49 L462.45,60.50 L463.79,60.51 L465.12,60.53 L466.45,60.54 L467.79,60.56 L469.12,60.57 L470.45,60.58 L471.79,60.59 L473.12,60.61 L474.45,60.62 L475.78,60.63 L477.12,60.64 L478.45,60.66 L479.78,60.67 L481.12,60.68 L482.45,60.69 L483.78,60.70 L485.12,60.71 L486.45,60.72 L487.78,60.74 L489.11,60.75 L490.45,60.76 L491.78,60.77 L493.11,60.78 L494.45,60.79 L495.78,60.80 L497.11,60.81 L498.45,60.82 L499.78,60.83 L501.11,60.84 L502.44,60.84 L503.78,60.85 L505.11,60.86 L506.44,60.87 L507.78,60.88 L509.11,60.89 L510.44,60.90 L511.78,60.90 L513.11,60.91 L514.44,60.92 L515.78,60.93 L517.11,60.93 L518.44,60.94 L519.78,60.95 L521.11,60.95 L522.44,60.96 L523.78,60.97 L525.11,60.97 L526.44,60.98 L527.78,60.98 L529.11,60.99 L530.44,60.99 L531.78,61.00 L533.11,61.00 L534.44,61.01 L535.78,61.01 L537.11,61.02 L538.44,61.02 L539.78,61.03 L541.11,61.03 L542.44,61.03 L543.78,61.04 L545.11,61.04 L546.44,61.04 L547.78,61.05 L549.11,61.05 L550.44,61.05 L551.78,61.05 L553.11,61.06 L554.45,61.06 L555.78,61.06 L557.11,61.06 L558.45,61.06 L559.78,61.06 L561.11,61.07 L562.45,61.07 L563.78,61.07 L565.12,61.07 L566.45,61.07 L567.78,61.07 L569.12,61.07 L570.45,61.07 L571.79,61.07 L573.12,61.07 L574.45,61.07 L575.79,61.06 L577.12,61.06 L578.46,61.06 L579.79,61.06 L581.12,61.06 L582.46,61.06 L583.79,61.05 L585.13,61.05 L586.46,61.05 L587.80,61.05 L589.13,61.04 L590.46,61.04 L591.80,61.04 L593.13,61.03 L594.47,61.03 L595.80,61.02 L597.14,61.02 L598.47,61.02 L599.81,61.01 L601.14,61.01 L602.48,61.00 L603.81,61.00 L605.14,60.99 L606.48,60.98 L607.81,60.98 L609.15,60.97 L610.48,60.97 L611.82,60.96 L613.15,60.95 L614.49,60.95 L615.82,60.94 L617.16,60.93 L618.49,60.92 L619.83,60.92 L621.16,60.91 L622.50,60.90 L622.50,169.20 L621.20,168.88 L619.91,168.55 L618.61,168.23 L617.32,167.91 L616.02,167.59 L614.73,167.26 L613.43,166.94 L612.14,166.62 L610.84,166.30 L609.54,165.97 L608.25,165.65 L606.95,165.33 L605.66,165.01 L604.36,164.69 L603.06,164.37 L601.77,164.05 L600.47,163.72 L599.18,163.40 L597.88,163.08 L596.58,162.76 L595.29,162.44 L593.99,162.12 L592.69,161.80 L591.40,161.48 L590.10,161.16 L588.80,160.84 L587.51,160.52 L586.21,160.20 L584.92,159.88 L583.62,159.56 L582.32,159.24 L581.02,158.92 L579.73,158.60 L578.43,158.29 L577.13,157.97 L575.84,157.65 L574.54,157.33 L573.24,157.01 L571.95,156.69 L570.65,156.37 L569.35,156.06 L568.05,155.74 L566.76,155.42 L565.46,155.10 L564.16,154.78 L562.87,154.47 L561.57,154.15 L560.27,153.83 L558.97,153.51 L557.68,153.20 L556.38,152.88 L555.08,152.56 L553.78,152.24 L552.49,151.93 L551.19,151.61 L549.89,151.29 L548.59,150.98 L547.30,150.66 L546.00,150.34 L544.70,150.03 L543.40,149.71 L542.11,149.39 L540.81,149.08 L539.51,148.76 L538.21,148.45 L536.91,148.13 L535.62,147.81 L534.32,147.50 L533.02,147.18 L531.72,146.87 L530.42,146.55 L529.13,146.24 L527.83,145.92 L526.53,145.60 L525.23,145.29 L523.93,144.97 L522.64,144.66 L521.34,144.34 L520.04,144.03 L518.74,143.71 L517.44,143.40 L516.14,143.08 L514.85,142.77 L513.55,142.45 L512.25,142.14 L510.95,141.82 L509.65,141.51 L508.35,141.20 L507.06,140.88 L505.76,140.57 L504.46,140.25 L503.16,139.94 L501.86,139.62 L500.56,139.31 L499.27,139.00 L497.97,138.68 L496.67,138.37 L495.37,138.05 L494.07,137.74 L492.77,137.42 L491.48,137.11 L490.18,136.80 L488.88,136.48 L487.58,136.17 L486.28,135.86 L484.98,135.54 L483.68,135.23 L482.39,134.91 L481.09,134.60 L479.79,134.29 L478.49,133.97 L477.19,133.66 L475.89,133.35 L474.59,133.03 L473.30,132.72 L472.00,132.41 L470.70,132.09 L469.40,131.78 L468.10,131.47 L466.80,131.15 L465.50,130.84 L464.21,130.53 L462.91,130.21 L461.61,129.90 L460.31,129.59 L459.01,129.27 L457.71,128.96 L456.41,128.65 L455.11,128.33 L453.82,128.02 L452.52,127.71 L451.22,127.39 L449.92,127.08 L448.62,126.77 L447.32,126.45 L446.02,126.14 L444.73,125.83 L443.43,125.51 L442.13,125.20 L440.83,124.89 L439.53,124.57 L438.23,124.26 L436.93,123.95 L435.64,123.64 L434.34,123.32 L433.04,123.01 L431.74,122.70 L430.44,122.38 L429.14,122.07 L427.84,121.76 L426.55,121.45 L425.25,121.13 L423.95,120.82 L422.65,120.51 L421.35,120.20 L420.05,119.89 L418.75,119.57 L417.45,119.26 L416.16,118.95 L414.86,118.64 L413.56,118.33 L412.26,118.02 L410.96,117.71 L409.66,117.40 L408.36,117.09 L407.06,116.78 L405.76,116.47 L404.46,116.16 L403.16,115.85 L401.87,115.55 L400.57,115.24 L399.27,114.93 L397.97,114.62 L396.67,114.32 L395.37,114.01 L394.07,113.70 L392.77,113.40 L391.47,113.09 L390.17,112.79 L388.87,112.48 L387.57,112.18 L386.27,111.88 L384.97,111.57 L383.67,111.27 L382.36,110.97 L381.06,110.67 L379.76,110.36 L378.46,110.06 L377.16,109.76 L375.86,109.46 L374.56,109.17 L373.26,108.87 L371.96,108.57 L370.65,108.27 L369.35,107.98 L368.05,107.68 L366.75,107.38 L365.45,107.09 L364.14,106.79 L362.84,106.50 L361.54,106.21 L360.24,105.92 L358.93,105.62 L357.63,105.33 L356.33,105.04 L355.03,104.75 L353.72,104.46 L352.42,104.18 L351.11,103.89 L349.81,103.60 L348.51,103.32 L347.20,103.03 L345.90,102.75 L344.59,102.46 L343.29,102.18 L341.98,101.90 L340.68,101.62 L339.37,101.34 L338.07,101.06 L336.76,100.78 L335.46,100.50 L334.15,100.23 L332.85,99.95 L331.54,99.68 L330.23,99.40 L328.93,99.13 L327.62,98.86 L326.31,98.59 L325.01,98.31 L323.70,98.05 L322.39,97.78 L321.08,97.51 L319.78,97.24 L318.47,96.98 L317.16,96.71 L315.85,96.45 L314.54,96.19 L313.23,95.93 L311.92,95.67 L310.61,95.41 L309.30,95.15 L307.99,94.89 L306.68,94.64 L305.37,94.38 L304.06,94.13 L302.75,93.88 L301.44,93.63 L300.13,93.38 L298.82,93.13 L297.51,92.88 L296.19,92.63 L294.88,92.39 L293.57,92.14 L292.26,91.90 L290.94,91.66 L289.63,91.42 L288.32,91.18 L287.00,90.94 L285.69,90.71 L284.37,90.47 L283.06,90.24 L281.74,90.00 L280.43,89.77 L279.11,89.54 L277.80,89.31 L276.48,89.09 L275.16,88.86 L273.85,88.64 L272.53,88.41 L271.21,88.19 L269.90,87.97 L268.58,87.75 L267.26,87.53 L265.94,87.32 L264.62,87.10 L263.30,86.89 L261.98,86.68 L260.66,86.47 L259.34,86.26 L258.02,86.05 L256.70,85.85 L255.38,85.64 L254.06,85.44 L252.74,85.24 L251.42,85.04 L250.10,84.84 L248.77,84.65 L247.45,84.45 L246.13,84.26 L244.80,84.07 L243.48,83.88 L242.16,83.69 L240.83,83.50 L239.51,83.32 L238.18,83.13 L236.85,82.95 L235.53,82.77 L234.20,82.59 L232.88,82.42 L231.55,82.24 L230.22,82.07 L228.89,81.90 L227.56,81.73 L226.24,81.56 L224.91,81.39 L223.58,81.23 L222.25,81.07 L220.92,80.91 L219.59,80.75 L218.26,80.59 L216.93,80.43 L215.59,80.28 L214.26,80.13 L212.93,79.98 L211.60,79.83 L210.26,79.69 L208.93,79.54 L207.60,79.40 L206.26,79.26 L204.93,79.13 L203.59,79.00 L202.26,78.87 L200.93,78.75 L199.59,78.64 L198.26,78.53 L196.92,78.43 L195.59,78.33 L194.26,78.25 L192.93,78.17 L191.59,78.10 L190.26,78.04 L188.93,77.98 L187.60,77.94 L186.27,77.91 L184.95,77.89 L183.62,77.88 L182.29,77.89 L180.97,77.90 L179.65,77.93 L178.32,77.97 L177.00,78.03 L175.68,78.10 L174.37,78.19 L173.05,78.29 L171.74,78.41 L170.42,78.54 L169.11,78.70 L167.80,78.87 L166.50,79.05 L165.19,79.26 L163.89,79.48 L162.59,79.73 L161.29,79.99 L159.99,80.28 L158.70,80.58 L157.41,80.91 L156.12,81.26 L154.84,81.63 L153.55,82.02 L152.28,82.43 L151.00,82.86 L149.73,83.31 L148.46,83.77 L147.20,84.25 L145.95,84.75 L144.70,85.27 L143.45,85.81 L142.22,86.36 L140.98,86.92 L139.76,87.50 L138.54,88.10 L137.33,88.70 L136.12,89.33 L134.93,89.96 L133.74,90.61 L132.56,91.27 L131.39,91.94 L130.23,92.63 L129.09,93.33 L127.96,94.04 L126.84,94.78 L125.74,95.53 L124.66,96.30 L123.60,97.09 L122.56,97.90 L121.54,98.73 L120.55,99.59 L119.59,100.47 L118.65,101.38 L117.74,102.32 L116.87,103.28 L116.02,104.27 L115.20,105.29 L114.41,106.33 L113.65,107.39 L112.91,108.48 L112.19,109.58 L111.49,110.70 L110.80,111.83 L110.14,112.98 L109.48,114.14 L108.84,115.31 L108.21,116.49 L107.59,117.67 L106.98,118.86 L106.37,120.05 L105.77,121.25 L105.18,122.45 L104.59,123.65 L104.01,124.86 L103.43,126.07 L102.87,127.29 L102.31,128.51 L101.75,129.73 L101.20,130.96 L100.66,132.19 L100.13,133.42 L99.61,134.65 L99.09,135.89 L98.57,137.13 L98.07,138.37 L97.57,139.62 L97.08,140.87 L96.60,142.12 L96.12,143.37 L95.65,144.63 L95.19,145.89 L94.73,147.15 L94.28,148.41 L93.84,149.68 L93.41,150.94 L92.98,152.21 L92.57,153.48 L92.16,154.75 L91.75,156.03 L91.35,157.30 L90.96,158.58 L90.58,159.86 L90.20,161.14 L89.83,162.42 L89.47,163.70 L89.11,164.99 L88.76,166.27 L88.41,167.56 L88.07,168.85 L87.74,170.14 L87.41,171.43 L87.09,172.72 L86.77,174.02 L86.46,175.31 L86.15,176.61 L85.85,177.90 L85.55,179.20 L85.26,180.50 L84.97,181.80 L84.69,183.11 L84.41,184.41 L84.13,185.71 L83.86,187.02 L83.60,188.32 L83.34,189.63 L83.08,190.94 L82.82,192.25 L82.57,193.56 L82.32,194.87 L82.08,196.18 L81.83,197.49 L81.59,198.80 L81.36,200.11 L81.13,201.43 L80.89,202.74 L80.67,204.06 L80.44,205.37 L80.22,206.69 L80.00,208.00 L79.78,209.32 L79.56,210.64 L79.34,211.96 L79.13,213.27 L78.92,214.59 L78.71,215.91 L78.50,217.23 L78.29,218.55 L78.08,219.87 L77.87,221.19 L77.67,222.51 L77.46,223.83 L77.26,225.15 L77.06,226.47 L76.85,227.79 L76.65,229.11 L76.45,230.43 L76.25,231.75 L76.05,233.07 L75.85,234.39 L75.65,235.71 L75.45,237.03 L75.25,238.35 L75.06,239.68 L74.86,241.00 L74.67,242.32 L74.47,243.64 L74.28,244.96 L74.08,246.28 L73.89,247.61 L73.70,248.93 L73.51,250.25 L73.32,251.57 L73.13,252.90 L72.94,254.22 L72.75,255.54 L72.57,256.87 L72.38,258.19 L72.20,259.51 L72.01,260.83 L71.83,262.16 L71.64,263.48 L71.46,264.81 L71.28,266.13 L71.10,267.45 L70.92,268.78 L70.74,270.10 L70.56,271.43 L70.38,272.75 L70.20,274.07 L70.03,275.40 L69.85,276.72 L69.68,278.05 L69.50,279.37 L69.33,280.70 L69.16,282.02 L68.98,283.35 L68.81,284.67 L68.64,286.00 L68.47,287.32 L68.30,288.65 L68.14,289.97 L67.97,291.30 L67.80,292.63 L67.64,293.95 L67.47,295.28 L67.31,296.60 L67.14,297.93 L66.98,299.26 L66.82,300.58 L66.66,301.91 L66.50,303.24 L66.34,304.56 L66.18,305.89 L66.02,307.21 L65.87,308.54 L65.71,309.87 L65.55,311.20 L65.40,312.52 L65.25,313.85 L65.09,315.18 L64.94,316.50 L64.79,317.83 L64.64,319.16 L64.49,320.49 L64.34,321.81 L64.19,323.14 L64.05,324.47 L63.90,325.80 L63.75,327.12 L63.61,328.45 L63.46,329.78 L63.32,331.11 L63.18,332.44 L63.04,333.76 L62.90,335.09 L62.76,336.42 L62.62,337.75 L62.48,339.08 L62.34,340.40 L62.21,341.73Z" fill="#ff8000" fill-opacity="0.3" stroke="none"/>
<path d="M62.14,341.77 L62.28,340.44 L62.41,339.11 L62.55,337.79 L62.68,336.46 L62.82,335.13 L62.96,333.81 L63.10,332.48 L63.24,331.15 L63.38,329.83 L63.52,328.50 L63.66,327.17 L63.80,325.85 L63.94,324.52 L64.09,323.19 L64.23,321.87 L64.38,320.54 L64.52,319.22 L64.67,317.89 L64.82,316.56 L64.97,315.24 L65.12,313.91 L65.27,312.59 L65.42,311.26 L65.57,309.94 L65.72,308.61 L65.88,307.29 L66.03,305.96 L66.19,304.63 L66.34,303.31 L66.50,301.98 L66.66,300.66 L66.82,299.33 L66.98,298.01 L67.14,296.68 L67.30,295.36 L67.46,294.04 L67.62,292.71 L67.78,291.39 L67.95,290.06 L68.11,288.74 L68.28,287.41 L68.44,286.09 L68.61,284.77 L68.78,283.44 L68.94,282.12 L69.11,280.79 L69.28,279.47 L69.45,278.15 L69.63,276.82 L69.80,275.50 L69.97,274.18 L70.14,272.86 L70.32,271.53 L70.49,270.21 L70.67,268.89 L70.85,267.56 L71.02,266.24 L71.20,264.92 L71.38,263.60 L71.56,262.27 L71.74,260.95 L71.92,259.63 L72.10,258.31 L72.29,256.99 L72.47,255.67 L72.65,254.34 L72.84,253.02 L73.03,251.70 L73.21,250.38 L73.40,249.06 L73.59,247.74 L73.78,246.42 L73.96,245.10 L74.15,243.78 L74.35,242.46 L74.54,241.14 L74.73,239.82 L74.92,238.50 L75.12,237.18 L75.31,235.86 L75.51,234.54 L75.70,233.22 L75.90,231.90 L76.10,230.58 L76.29,229.26 L76.49,227.94 L76.69,226.62 L76.89,225.30 L77.09,223.98 L77.29,222.67 L77.50,221.35 L77.70,220.03 L77.90,218.71 L78.11,217.39 L78.32,216.08 L78.52,214.76 L78.73,213.44 L78.94,212.13 L79.15,210.81 L79.37,209.49 L79.58,208.18 L79.80,206.86 L80.02,205.55 L80.24,204.23 L80.46,202.92 L80.69,201.61 L80.91,200.29 L81.14,198.98 L81.38,197.67 L81.61,196.36 L81.85,195.05 L82.09,193.74 L82.33,192.43 L82.58,191.12 L82.83,189.81 L83.08,188.51 L83.34,187.20 L83.60,185.89 L83.87,184.59 L84.14,183.28 L84.41,181.98 L84.68,180.68 L84.96,179.38 L85.25,178.08 L85.54,176.78 L85.83,175.48 L86.13,174.18 L86.43,172.88 L86.74,171.59 L87.05,170.29 L87.36,169.00 L87.69,167.71 L88.01,166.42 L88.35,165.13 L88.68,163.84 L89.03,162.55 L89.37,161.26 L89.73,159.98 L90.09,158.69 L90.45,157.41 L90.83,156.13 L91.20,154.85 L91.59,153.57 L91.98,152.30 L92.38,151.02 L92.78,149.75 L93.19,148.47 L93.61,147.20 L94.03,145.93 L94.46,144.66 L94.89,143.40 L95.33,142.13 L95.78,140.87 L96.23,139.61 L96.69,138.35 L97.15,137.09 L97.62,135.84 L98.10,134.59 L98.58,133.34 L99.07,132.09 L99.56,130.84 L100.06,129.60 L100.56,128.36 L101.08,127.13 L101.60,125.89 L102.13,124.67 L102.67,123.45 L103.21,122.23 L103.77,121.02 L104.34,119.82 L104.92,118.62 L105.51,117.43 L106.12,116.25 L106.74,115.07 L107.37,113.91 L108.01,112.75 L108.67,111.60 L109.35,110.46 L110.04,109.33 L110.75,108.22 L111.47,107.11 L112.21,106.01 L112.96,104.93 L113.73,103.85 L114.52,102.79 L115.32,101.73 L116.13,100.69 L116.96,99.66 L117.80,98.64 L118.66,97.63 L119.53,96.63 L120.42,95.64 L121.32,94.66 L122.23,93.70 L123.15,92.74 L124.09,91.80 L125.04,90.87 L126.00,89.95 L126.98,89.04 L127.96,88.14 L128.96,87.25 L129.97,86.38 L130.99,85.51 L132.02,84.66 L133.07,83.82 L134.12,82.99 L135.18,82.17 L136.26,81.37 L137.34,80.58 L138.44,79.80 L139.54,79.04 L140.65,78.28 L141.77,77.55 L142.90,76.82 L144.04,76.11 L145.19,75.41 L146.35,74.73 L147.51,74.06 L148.68,73.41 L149.86,72.77 L151.05,72.14 L152.24,71.53 L153.44,70.94 L154.65,70.36 L155.86,69.80 L157.08,69.25 L158.30,68.72 L159.53,68.21 L160.77,67.71 L162.02,67.23 L163.26,66.77 L164.52,66.32 L165.78,65.90 L167.04,65.49 L168.31,65.10 L169.58,64.73 L170.86,64.38 L172.15,64.04 L173.44,63.73 L174.73,63.43 L176.03,63.15 L177.33,62.89 L178.63,62.64 L179.94,62.41 L181.25,62.18 L182.56,61.98 L183.87,61.78 L185.19,61.59 L186.51,61.42 L187.83,61.25 L189.15,61.09 L190.48,60.94 L191.80,60.80 L193.13,60.66 L194.46,60.52 L195.78,60.40 L197.11,60.27 L198.44,60.15 L199.77,60.03 L201.09,59.91 L202.42,59.80 L203.75,59.69 L205.08,59.58 L206.41,59.48 L207.74,59.38 L209.07,59.28 L210.40,59.19 L211.73,59.09 L213.06,59.01 L214.38,58.92 L215.71,58.84 L217.04,58.76 L218.38,58.68 L219.71,58.61 L221.04,58.53 L222.37,58.47 L223.70,58.40 L225.03,58.34 L226.36,58.27 L227.69,58.22 L229.02,58.16 L230.35,58.11 L231.69,58.05 L233.02,58.01 L234.35,57.96 L235.68,57.91 L237.01,57.87 L238.35,57.83 L239.68,57.80 L241.01,57.76 L242.34,57.73 L243.68,57.70 L245.01,57.67 L246.34,57.64 L247.68,57.61 L249.01,57.59 L250.34,57.57 L251.68,57.55 L253.01,57.53 L254.34,57.52 L255.68,57.50 L257.01,57.49 L258.34,57.48 L259.68,57.47 L261.01,57.46 L262.35,57.46 L263.68,57.45 L265.01,57.45 L266.35,57.45 L267.68,57.45 L269.02,57.45 L270.35,57.45 L271.69,57.46 L273.02,57.46 L274.36,57.47 L275.69,57.48 L277.02,57.49 L278.36,57.50 L279.69,57.51 L281.03,57.52 L282.36,57.54 L283.70,57.55 L285.03,57.57 L286.37,57.58 L287.70,57.60 L289.04,57.62 L290.37,57.64 L291.71,57.66 L293.04,57.68 L294.38,57.70 L295.72,57.72 L297.05,57.75 L298.39,57.77 L299.72,57.79 L301.06,57.82 L302.39,57.84 L303.73,57.87 L305.06,57.89 L306.40,57.92 L307.73,57.95 L309.07,57.97 L310.40,58.00 L311.74,58.03 L313.07,58.06 L314.41,58.08 L315.74,58.11 L317.08,58.14 L318.41,58.17 L319.75,58.20 L321.08,58.23 L322.42,58.25 L323.75,58.28 L325.09,58.31 L326.42,58.34 L327.76,58.36 L329.09,58.39 L330.43,58.42 L331.76,58.45 L333.10,58.47 L334.43,58.50 L335.77,58.53 L337.10,58.56 L338.44,58.58 L339.77,58.61 L341.11,58.64 L342.44,58.66 L343.77,58.69 L345.11,58.71 L346.44,58.74 L347.78,58.77 L349.11,58.79 L350.45,58.82 L351.78,58.84 L353.11,58.87 L354.45,58.89 L355.78,58.92 L357.12,58.94 L358.45,58.97 L359.79,58.99 L361.12,59.02 L362.45,59.04 L363.79,59.07 L365.12,59.09 L366.46,59.12 L367.79,59.14 L369.12,59.16 L370.46,59.19 L371.79,59.21 L373.13,59.24 L374.46,59.26 L375.79,59.28 L377.13,59.31 L378.46,59.33 L379.79,59.35 L381.13,59.37 L382.46,59.40 L383.80,59.42 L385.13,59.44 L386.46,59.46 L387.80,59.49 L389.13,59.51 L390.46,59.53 L391.80,59.55 L393.13,59.57 L394.46,59.60 L395.80,59.62 L397.13,59.64 L398.46,59.66 L399.80,59.68 L401.13,59.70 L402.46,59.72 L403.80,59.74 L405.13,59.76 L406.46,59.78 L407.80,59.80 L409.13,59.82 L410.46,59.84 L411.80,59.86 L413.13,59.88 L414.46,59.90 L415.80,59.92 L417.13,59.94 L418.46,59.96 L419.80,59.98 L421.13,60.00 L422.46,60.01 L423.80,60.03 L425.13,60.05 L426.46,60.07 L427.80,60.09 L429.13,60.10 L430.46,60.12 L431.80,60.14 L433.13,60.16 L434.46,60.17 L435.79,60.19 L437.13,60.21 L438.46,60.23 L439.79,60.24 L441.13,60.26 L442.46,60.27 L443.79,60.29 L445.13,60.31 L446.46,60.32 L447.79,60.34 L449.12,60.35 L450.46,60.37 L451.79,60.38 L453.12,60.40 L454.46,60.41 L455.79,60.43 L457.12,60.44 L458.46,60.46 L459.79,60.47 L461.12,60.49 L462.45,60.50 L463.79,60.51 L465.12,60.53 L466.45,60.54 L467.79,60.56 L469.12,60.57 L470.45,60.58 L471.79,60.59 L473.12,60.61 L474.45,60.62 L475.78,60.63 L477.12,60.64 L478.45,60.66 L479.78,60.67 L481.12,60.68 L482.45,60.69 L483.78,60.70 L485.12,60.71 L486.45,60.72 L487.78,60.74 L489.11,60.75 L490.45,60.76 L491.78,60.77 L493.11,60.78 L494.45,60.79 L495.78,60.80 L497.11,60.81 L498.45,60.82 L499.78,60.83 L501.11,60.84 L502.44,60.84 L503.78,60.85 L505.11,60.86 L506.44,60.87 L507.78,60.88 L509.11,60.89 L510.44,60.90 L511.78,60.90 L513.11,60.91 L514.44,60.92 L515.78,60.93 L517.11,60.93 L518.44,60.94 L519.78,60.95 L521.11,60.95 L522.44,60.96 L523.78,60.97 L525.11,60.97 L526.44,60.98 L527.78,60.98 L529.11,60.99 L530.44,60.99 L531.78,61.00 L533.11,61.00 L534.44,61.01 L535.78,61.01 L537.11,61.02 L538.44,61.02 L539.78,61.03 L541.11,61.03 L542.44,61.03 L543.78,61.04 L545.11,61.04 L546.44,61.04 L547.78,61.05 L549.11,61.05 L550.44,61.05 L551.78,61.05 L553.11,61.06 L554.45,61.06 L555.78,61.06 L557.11,61.06 L558.45,61.06 L559.78,61.06 L561.11,61.07 L562.45,61.07 L563.78,61.07 L565.12,61.07 L566.45,61.07 L567.78,61.07 L569.12,61.07 L570.45,61.07 L571.79,61.07 L573.12,61.07 L574.45,61.07 L575.79,61.06 L577.12,61.06 L578.46,61.06 L579.79,61.06 L581.12,61.06 L582.46,61.06 L583.79,61.05 L585.13,61.05 L586.46,61.05 L587.80,61.05 L589.13,61.04 L590.46,61.04 L591.80,61.04 L593.13,61.03 L594.47,61.03 L595.80,61.02 L597.14,61.02 L598.47,61.02 L599.81,61.01 L601.14,61.01 L602.48,61.00 L603.81,61.00 L605.14,60.99 L606.48,60.98 L607.81,60.98 L609.15,60.97 L610.48,60.97 L611.82,60.96 L613.15,60.95 L614.49,60.95 L615.82,60.94 L617.16,60.93 L618.49,60.92 L619.83,60.92 L621.16,60.91 L622.50,60.90" fill="none" stroke="#ff8000" stroke-width="3.0" stroke-linejoin="round"/>
<path d="M62.21,341.73 L62.34,340.40 L62.48,339.08 L62.62,337.75 L62.76,336.42 L62.90,335.09 L63.04,333.76 L63.18,332.44 L63.32,331.11 L63.46,329.78 L63.61,328.45 L63.75,327.12 L63.90,325.80 L64.05,324.47 L64.19,323.14 L64.34,321.81 L64.49,320.49 L64.64,319.16 L64.79,317.83 L64.94,316.50 L65.09,315.18 L65.25,313.85 L65.40,312.52 L65.55,311.20 L65.71,309.87 L65.87,308.54 L66.02,307.21 L66.18,305.89 L66.34,304.56 L66.50,303.24 L66.66,301.91 L66.82,300.58 L66.98,299.26 L67.14,297.93 L67.31,296.60 L67.47,295.28 L67.64,293.95 L67.80,292.63 L67.97,291.30 L68.14,289.97 L68.30,288.65 L68.47,287.32 L68.64,286.00 L68.81,284.67 L68.98,283.35 L69.16,282.02 L69.33,280.70 L69.50,279.37 L69.68,278.05 L69.85,276.72 L70.03,275.40 L70.20,274.07 L70.38,272.75 L70.56,271.43 L70.74,270.10 L70.92,268.78 L71.10,267.45 L71.28,266.13 L71.46,264.81 L71.64,263.48 L71.83,262.16 L72.01,260.83 L72.20,259.51 L72.38,258.19 L72.57,256.87 L72.75,255.54 L72.94,254.22 L73.13,252.90 L73.32,251.57 L73.51,250.25 L73.70,248.93 L73.89,247.61 L74.08,246.28 L74.28,244.96 L74.47,243.64 L74.67,242.32 L74.86,241.00 L75.06,239.68 L75.25,238.35 L75.45,237.03 L75.65,235.71 L75.85,234.39 L76.05,233.07 L76.25,231.75 L76.45,230.43 L76.65,229.11 L76.85,227.79 L77.06,226.47 L77.26,225.15 L77.46,223.83 L77.67,222.51 L77.87,221.19 L78.08,219.87 L78.29,218.55 L78.50,217.23 L78.71,215.91 L78.92,214.59 L79.13,213.27 L79.34,211.96 L79.56,210.64 L79.78,209.32 L80.00,208.00 L80.22,206.69 L80.44,205.37 L80.67,204.06 L80.89,202.74 L81.13,201.43 L81.36,200.11 L81.59,198.80 L81.83,197.49 L82.08,196.18 L82.32,194.87 L82.57,193.56 L82.82,192.25 L83.08,190.94 L83.34,189.63 L83.60,188.32 L83.86,187.02 L84.13,185.71 L84.41,184.41 L84.69,183.11 L84.97,181.80 L85.26,180.50 L85.55,179.20 L85.85,177.90 L86.15,176.61 L86.46,175.31 L86.77,174.02 L87.09,172.72 L87.41,171.43 L87.74,170.14 L88.07,168.85 L88.41,167.56 L88.76,166.27 L89.11,164.99 L89.47,163.70 L89.83,162.42 L90.20,161.14 L90.58,159.86 L90.96,158.58 L91.35,157.30 L91.75,156.03 L92.16,154.75 L92.57,153.48 L92.98,152.21 L93.41,150.94 L93.84,149.68 L94.28,148.41 L94.73,147.15 L95.19,145.89 L95.65,144.63 L96.12,143.37 L96.60,142.12 L97.08,140.87 L97.57,139.62 L98.07,138.37 L98.57,137.13 L99.09,135.89 L99.61,134.65 L100.13,133.42 L100.66,132.19 L101.20,130.96 L101.75,129.73 L102.31,128.51 L102.87,127.29 L103.43,126.07 L104.01,124.86 L104.59,123.65 L105.18,122.45 L105.77,121.25 L106.37,120.05 L106.98,118.86 L107.59,117.67 L108.21,116.49 L108.84,115.31 L109.48,114.14 L110.14,112.98 L110.80,111.83 L111.49,110.70 L112.19,109.58 L112.91,108.48 L113.65,107.39 L114.41,106.33 L115.20,105.29 L116.02,104.27 L116.87,103.28 L117.74,102.32 L118.65,101.38 L119.59,100.47 L120.55,99.59 L121.54,98.73 L122.56,97.90 L123.60,97.09 L124.66,96.30 L125.74,95.53 L126.84,94.78 L127.96,94.04 L129.09,93.33 L130.23,92.63 L131.39,91.94 L132.56,91.27 L133.74,90.61 L134.93,89.96 L136.12,89.33 L137.33,88.70 L138.54,88.10 L139.76,87.50 L140.98,86.92 L142.22,86.36 L143.45,85.81 L144.70,85.27 L145.95,84.75 L147.20,84.25 L148.46,83.77 L149.73,83.31 L151.00,82.86 L152.28,82.43 L153.55,82.02 L154.84,81.63 L156.12,81.26 L157.41,80.91 L158.70,80.58 L159.99,80.28 L161.29,79.99 L162.59,79.73 L163.89,79.48 L165.19,79.26 L166.50,79.05 L167.80,78.87 L169.11,78.70 L170.42,78.54 L171.74,78.41 L173.05,78.29 L174.37,78.19 L175.68,78.10 L177.00,78.03 L178.32,77.97 L179.65,77.93 L180.97,77.90 L182.29,77.89 L183.62,77.88 L184.95,77.89 L186.27,77.91 L187.60,77.94 L188.93,77.98 L190.26,78.04 L191.59,78.10 L192.93,78.17 L194.26,78.25 L195.59,78.33 L196.92,78.43 L198.26,78.53 L199.59,78.64 L200.93,78.75 L202.26,78.87 L203.59,79.00 L204.93,79.13 L206.26,79.26 L207.60,79.40 L208.93,79.54 L210.26,79.69 L211.60,79.83 L212.93,79.98 L214.26,80.13 L215.59,80.28 L216.93,80.43 L218.26,80.59 L219.59,80.75 L220.92,80.91 L222.25,81.07 L223.58,81.23 L224.91,81.39 L226.24,81.56 L227.56,81.73 L228.89,81.90 L230.22,82.07 L231.55,82.24 L232.88,82.42 L234.20,82.59 L235.53,82.77 L236.85,82.95 L238.18,83.13 L239.51,83.32 L240.83,83.50 L242.16,83.69 L243.48,83.88 L244.80,84.07 L246.13,84.26 L247.45,84.45 L248.77,84.65 L250.10,84.84 L251.42,85.04 L252.74,85.24 L254.06,85.44 L255.38,85.64 L256.70,85.85 L258.02,86.05 L259.34,86.26 L260.66,86.47 L261.98,86.68 L263.30,86.89 L264.62,87.10 L265.94,87.32 L267.26,87.53 L268.58,87.75 L269.90,87.97 L271.21,88.19 L272.53,88.41 L273.85,88.64 L275.16,88.86 L276.48,89.09 L277.80,89.31 L279.11,89.54 L280.43,89.77 L281.74,90.00 L283.06,90.24 L284.37,90.47 L285.69,90.71 L287.00,90.94 L288.32,91.18 L289.63,91.42 L290.94,91.66 L292.26,91.90 L293.57,92.14 L294.88,92.39 L296.19,92.63 L297.51,92.88 L298.82,93.13 L300.13,93.38 L301.44,93.63 L302.75,93.88 L304.06,94.13 L305.37,94.38 L306.68,94.64 L307.99,94.89 L309.30,95.15 L310.61,95.41 L311.92,95.67 L313.23,95.93 L314.54,96.19 L315.85,96.45 L317.16,96.71 L318.47,96.98 L319.78,97.24 L321.08,97.51 L322.39,97.78 L323.70,98.05 L325.01,98.31 L326.31,98.59 L327.62,98.86 L328.93,99.13 L330.23,99.40 L331.54,99.68 L332.85,99.95 L334.15,100.23 L335.46,100.50 L336.76,100.78 L338.07,101.06 L339.37,101.34 L340.68,101.62 L341.98,101.90 L343.29,102.18 L344.59,102.46 L345.90,102.75 L347.20,103.03 L348.51,103.32 L349.81,103.60 L351.11,103.89 L352.42,104.18 L353.72,104.46 L355.03,104.75 L356.33,105.04 L357.63,105.33 L358.93,105.62 L360.24,105.92 L361.54,106.21 L362.84,106.50 L364.14,106.79 L365.45,107.09 L366.75,107.38 L368.05,107.68 L369.35,107.98 L370.65,108.27 L371.96,108.57 L373.26,108.87 L374.56,109.17 L375.86,109.46 L377.16,109.76 L378.46,110.06 L379.76,110.36 L381.06,110.67 L382.36,110.97 L383.67,111.27 L384.97,111.57 L386.27,111.88 L387.57,112.18 L388.87,112.48 L390.17,112.79 L391.47,113.09 L392.77,113.40 L394.07,113.70 L395.37,114.01 L396.67,114.32 L397.97,114.62 L399.27,114.93 L400.57,115.24 L401.87,115.55 L403.16,115.85 L404.46,116.16 L405.76,116.47 L407.06,116.78 L408.36,117.09 L409.66,117.40 L410.96,117.71 L412.26,118.02 L413.56,118.33 L414.86,118.64 L416.16,118.95 L417.45,119.26 L418.75,119.57 L420.05,119.89 L421.35,120.20 L422.65,120.51 L423.95,120.82 L425.25,121.13 L426.55,121.45 L427.84,121.76 L429.14,122.07 L430.44,122.38 L431.74,122.70 L433.04,123.01 L434.34,123.32 L435.64,123.64 L436.93,123.95 L438.23,124.26 L439.53,124.57 L440.83,124.89 L442.13,125.20 L443.43,125.51 L444.73,125.83 L446.02,126.14 L447.32,126.45 L448.62,126.77 L449.92,127.08 L451.22,127.39 L452.52,127.71 L453.82,128.02 L455.11,128.33 L456.41,128.65 L457.71,128.96 L459.01,129.27 L460.31,129.59 L461.61,129.90 L462.91,130.21 L464.21,130.53 L465.50,130.84 L466.80,131.15 L468.10,131.47 L469.40,131.78 L470.70,132.09 L472.00,132.41 L473.30,132.72 L474.59,133.03 L475.89,133.35 L477.19,133.66 L478.49,133.97 L479.79,134.29 L481.09,134.60 L482.39,134.91 L483.68,135.23 L484.98,135.54 L486.28,135.86 L487.58,136.17 L488.88,136.48 L490.18,136.80 L491.48,137.11 L492.77,137.42 L494.07,137.74 L495.37,138.05 L496.67,138.37 L497.97,138.68 L499.27,139.00 L500.56,139.31 L501.86,139.62 L503.16,139.94 L504.46,140.25 L505.76,140.57 L507.06,140.88 L508.35,141.20 L509.65,141.51 L510.95,141.82 L512.25,142.14 L513.55,142.45 L514.85,142.77 L516.14,143.08 L517.44,143.40 L518.74,143.71 L520.04,144.03 L521.34,144.34 L522.64,144.66 L523.93,144.97 L525.23,145.29 L526.53,145.60 L527.83,145.92 L529.13,146.24 L530.42,146.55 L531.72,146.87 L533.02,147.18 L534.32,147.50 L535.62,147.81 L536.91,148.13 L538.21,148.45 L539.51,148.76 L540.81,149.08 L542.11,149.39 L543.40,149.71 L544.70,150.03 L546.00,150.34 L547.30,150.66 L548.59,150.98 L549.89,151.29 L551.19,151.61 L552.49,151.93 L553.78,152.24 L555.08,152.56 L556.38,152.88 L557.68,153.20 L558.97,153.51 L560.27,153.83 L561.57,154.15 L562.87,154.47 L564.16,154.78 L565.46,155.10 L566.76,155.42 L568.05,155.74 L569.35,156.06 L570.65,156.37 L571.95,156.69 L573.24,157.01 L574.54,157.33 L575.84,157.65 L577.13,157.97 L578.43,158.29 L579.73,158.60 L581.02,158.92 L582.32,159.24 L583.62,159.56 L584.92,159.88 L586.21,160.20 L587.51,160.52 L588.80,160.84 L590.10,161.16 L591.40,161.48 L592.69,161.80 L593.99,162.12 L595.29,162.44 L596.58,162.76 L597.88,163.08 L599.18,163.40 L600.47,163.72 L601.77,164.05 L603.06,164.37 L604.36,164.69 L605.66,165.01 L606.95,165.33 L608.25,165.65 L609.54,165.97 L610.84,166.30 L612.14,166.62 L613.43,166.94 L614.73,167.26 L616.02,167.59 L617.32,167.91 L618.61,168.23 L619.91,168.55 L621.20,168.88 L622.50,169.20" fill="none" stroke="#ff8000" stroke-width="3.0" stroke-linejoin="round"/>
<path d="M59.30,372.30 L59.42,370.97 L59.55,369.64 L59.68,368.31 L59.80,366.98 L59.93,365.65 L60.06,364.31 L60.19,362.98 L60.32,361.65 L60.46,360.32 L60.59,358.99 L60.72,357.66 L60.86,356.33 L60.99,355.00 L61.13,353.67 L61.27,352.34 L61.41,351.01 L61.55,349.68 L61.69,348.35 L61.83,347.02 L61.97,345.69 L62.11,344.36 L62.25,343.04 L62.40,341.71 L62.54,340.38 L62.69,339.05 L62.84,337.72 L62.98,336.39 L63.13,335.06 L63.28,333.73 L63.43,332.40 L63.58,331.07 L63.74,329.75 L63.89,328.42 L64.04,327.09 L64.20,325.76 L64.35,324.43 L64.51,323.10 L64.66,321.78 L64.82,320.45 L64.98,319.12 L65.14,317.79 L65.30,316.46 L65.46,315.14 L65.62,313.81 L65.78,312.48 L65.94,311.15 L66.11,309.82 L66.27,308.50 L66.44,307.17 L66.60,305.84 L66.77,304.52 L66.93,303.19 L67.10,301.86 L67.27,300.53 L67.44,299.21 L67.61,297.88 L67.78,296.55 L67.95,295.23 L68.12,293.90 L68.30,292.57 L68.47,291.25 L68.64,289.92 L68.82,288.59 L68.99,287.27 L69.17,285.94 L69.35,284.61 L69.52,283.29 L69.70,281.96 L69.88,280.64 L70.06,279.31 L70.24,277.98 L70.42,276.66 L70.60,275.33 L70.78,274.01 L70.97,272.68 L71.15,271.36 L71.33,270.03 L71.52,268.71 L71.70,267.38 L71.89,266.05 L72.07,264.73 L72.26,263.40 L72.45,262.08 L72.64,260.75 L72.83,259.43 L73.01,258.10 L73.20,256.78 L73.39,255.45 L73.59,254.13 L73.78,252.81 L73.97,251.48 L74.16,250.16 L74.35,248.83 L74.55,247.51 L74.74,246.18 L74.94,244.86 L75.13,243.54 L75.33,242.21 L75.52,240.89 L75.72,239.56 L75.92,238.24 L76.12,236.92 L76.31,235.59 L76.51,234.27 L76.71,232.94 L76.91,231.62 L77.11,230.30 L77.31,228.97 L77.51,227.65 L77.72,226.33 L77.92,225.00 L78.12,223.68 L78.32,222.36 L78.53,221.03 L78.73,219.71 L78.94,218.39 L79.14,217.07 L79.35,215.74 L79.56,214.42 L79.77,213.10 L79.98,211.78 L80.19,210.46 L80.41,209.14 L80.62,207.82 L80.84,206.50 L81.06,205.18 L81.28,203.86 L81.51,202.54 L81.74,201.22 L81.97,199.91 L82.20,198.59 L82.44,197.28 L82.68,195.96 L82.93,194.65 L83.18,193.34 L83.43,192.03 L83.69,190.72 L83.95,189.41 L84.21,188.10 L84.48,186.79 L84.75,185.49 L85.03,184.19 L85.31,182.88 L85.60,181.58 L85.90,180.28 L86.20,178.98 L86.50,177.69 L86.81,176.39 L87.13,175.10 L87.45,173.81 L87.78,172.51 L88.11,171.23 L88.45,169.94 L88.80,168.65 L89.16,167.37 L89.52,166.09 L89.89,164.81 L90.26,163.53 L90.64,162.26 L91.03,160.98 L91.43,159.71 L91.84,158.44 L92.25,157.17 L92.68,155.91 L93.11,154.65 L93.55,153.39 L93.99,152.13 L94.45,150.87 L94.92,149.62 L95.39,148.37 L95.88,147.12 L96.37,145.88 L96.87,144.63 L97.38,143.39 L97.91,142.16 L98.44,140.92 L98.98,139.69 L99.54,138.46 L100.10,137.24 L100.68,136.01 L101.26,134.80 L101.86,133.59 L102.47,132.38 L103.09,131.18 L103.73,129.99 L104.37,128.80 L105.04,127.62 L105.71,126.45 L106.40,125.29 L107.10,124.13 L107.82,122.99 L108.55,121.86 L109.29,120.73 L110.05,119.62 L110.83,118.52 L111.62,117.43 L112.43,116.36 L113.26,115.29 L114.10,114.25 L114.96,113.22 L115.84,112.20 L116.73,111.21 L117.64,110.23 L118.57,109.28 L119.51,108.34 L120.48,107.43 L121.46,106.54 L122.46,105.68 L123.48,104.84 L124.52,104.03 L125.57,103.25 L126.65,102.50 L127.74,101.77 L128.85,101.07 L129.98,100.40 L131.13,99.75 L132.29,99.14 L133.46,98.54 L134.65,97.98 L135.85,97.44 L137.07,96.92 L138.30,96.43 L139.54,95.96 L140.79,95.52 L142.05,95.10 L143.32,94.71 L144.60,94.33 L145.89,93.98 L147.19,93.65 L148.50,93.35 L149.81,93.06 L151.13,92.80 L152.45,92.56 L153.78,92.33 L155.11,92.13 L156.44,91.95 L157.78,91.78 L159.12,91.64 L160.46,91.51 L161.81,91.40 L163.15,91.31 L164.49,91.24 L165.83,91.18 L167.17,91.14 L168.52,91.12 L169.85,91.11 L171.19,91.12 L172.53,91.14 L173.87,91.18 L175.20,91.23 L176.54,91.29 L177.87,91.37 L179.20,91.46 L180.54,91.57 L181.87,91.68 L183.20,91.81 L184.53,91.95 L185.86,92.10 L187.18,92.26 L188.51,92.43 L189.84,92.61 L191.16,92.79 L192.49,92.99 L193.81,93.20 L195.13,93.41 L196.45,93.63 L197.77,93.86 L199.09,94.09 L200.41,94.33 L201.73,94.58 L203.05,94.83 L204.36,95.09 L205.68,95.35 L206.99,95.62 L208.31,95.89 L209.62,96.16 L210.93,96.43 L212.24,96.71 L213.55,96.99 L214.86,97.28 L216.17,97.56 L217.47,97.85 L218.78,98.15 L220.09,98.44 L221.39,98.74 L222.69,99.04 L224.00,99.34 L225.30,99.65 L226.60,99.96 L227.90,100.27 L229.20,100.58 L230.50,100.90 L231.80,101.21 L233.10,101.53 L234.40,101.85 L235.69,102.18 L236.99,102.51 L238.29,102.83 L239.58,103.16 L240.87,103.50 L242.17,103.83 L243.46,104.17 L244.75,104.51 L246.05,104.85 L247.34,105.19 L248.63,105.53 L249.92,105.88 L251.21,106.23 L252.50,106.58 L253.79,106.93 L255.08,107.28 L256.37,107.63 L257.65,107.99 L258.94,108.35 L260.23,108.71 L261.51,109.07 L262.80,109.43 L264.09,109.79 L265.37,110.15 L266.66,110.52 L267.94,110.89 L269.23,111.25 L270.51,111.62 L271.80,111.99 L273.08,112.36 L274.36,112.74 L275.65,113.11 L276.93,113.48 L278.21,113.86 L279.49,114.24 L280.78,114.62 L282.06,115.00 L283.34,115.38 L284.62,115.76 L285.90,116.14 L287.18,116.52 L288.46,116.91 L289.74,117.29 L291.02,117.68 L292.30,118.07 L293.58,118.45 L294.86,118.84 L296.14,119.23 L297.42,119.62 L298.69,120.02 L299.97,120.41 L301.25,120.80 L302.53,121.20 L303.80,121.59 L305.08,121.99 L306.36,122.38 L307.64,122.78 L308.91,123.18 L310.19,123.58 L311.47,123.98 L312.74,124.38 L314.02,124.78 L315.29,125.18 L316.57,125.58 L317.84,125.99 L319.12,126.39 L320.39,126.79 L321.67,127.20 L322.94,127.61 L324.22,128.01 L325.49,128.42 L326.77,128.82 L328.04,129.23 L329.31,129.64 L330.59,130.05 L331.86,130.46 L333.14,130.87 L334.41,131.28 L335.68,131.69 L336.96,132.10 L338.23,132.51 L339.50,132.92 L340.78,133.33 L342.05,133.74 L343.32,134.16 L344.59,134.57 L345.87,134.98 L347.14,135.39 L348.41,135.81 L349.69,136.22 L350.96,136.63 L352.23,137.05 L353.50,137.46 L354.78,137.88 L356.05,138.29 L357.32,138.71 L358.59,139.12 L359.86,139.54 L361.14,139.95 L362.41,140.37 L363.68,140.78 L364.95,141.20 L366.22,141.61 L367.50,142.03 L368.77,142.44 L370.04,142.86 L371.31,143.27 L372.59,143.69 L373.86,144.10 L375.13,144.52 L376.40,144.93 L377.67,145.35 L378.95,145.76 L380.22,146.18 L381.49,146.59 L382.76,147.01 L384.04,147.42 L385.31,147.83 L386.58,148.25 L387.85,148.66 L389.13,149.07 L390.40,149.49 L391.67,149.90 L392.94,150.31 L394.22,150.72 L395.49,151.13 L396.76,151.55 L398.04,151.96 L399.31,152.37 L400.58,152.78 L401.86,153.19 L403.13,153.60 L404.40,154.01 L405.68,154.42 L406.95,154.82 L408.23,155.23 L409.50,155.64 L410.77,156.05 L412.05,156.46 L413.32,156.87 L414.60,157.27 L415.87,157.68 L417.14,158.09 L418.42,158.49 L419.69,158.90 L420.97,159.31 L422.24,159.71 L423.52,160.12 L424.79,160.52 L426.07,160.93 L427.34,161.33 L428.62,161.74 L429.89,162.14 L431.17,162.55 L432.44,162.95 L433.72,163.35 L434.99,163.76 L436.27,164.16 L437.54,164.56 L438.82,164.97 L440.09,165.37 L441.37,165.77 L442.64,166.18 L443.92,166.58 L445.19,166.98 L446.47,167.38 L447.75,167.78 L449.02,168.19 L450.30,168.59 L451.57,168.99 L452.85,169.39 L454.12,169.79 L455.40,170.19 L456.68,170.59 L457.95,170.99 L459.23,171.40 L460.50,171.80 L461.78,172.20 L463.06,172.60 L464.33,173.00 L465.61,173.40 L466.88,173.80 L468.16,174.20 L469.44,174.60 L470.71,175.00 L471.99,175.40 L473.27,175.79 L474.54,176.19 L475.82,176.59 L477.09,176.99 L478.37,177.39 L479.65,177.79 L480.92,178.19 L482.20,178.59 L483.48,178.99 L484.75,179.39 L486.03,179.78 L487.31,180.18 L488.58,180.58 L489.86,180.98 L491.14,181.38 L492.41,181.78 L493.69,182.18 L494.97,182.57 L496.24,182.97 L497.52,183.37 L498.80,183.77 L500.07,184.17 L501.35,184.57 L502.62,184.97 L503.90,185.36 L505.18,185.76 L506.45,186.16 L507.73,186.56 L509.01,186.96 L510.28,187.36 L511.56,187.75 L512.84,188.15 L514.11,188.55 L515.39,188.95 L516.67,189.35 L517.94,189.75 L519.22,190.15 L520.50,190.54 L521.77,190.94 L523.05,191.34 L524.33,191.74 L525.60,192.14 L526.88,192.54 L528.16,192.94 L529.43,193.34 L530.71,193.74 L531.98,194.13 L533.26,194.53 L534.54,194.93 L535.81,195.33 L537.09,195.73 L538.37,196.13 L539.64,196.53 L540.92,196.93 L542.19,197.33 L543.47,197.73 L544.75,198.13 L546.02,198.53 L547.30,198.93 L548.58,199.33 L549.85,199.73 L551.13,200.13 L552.40,200.54 L553.68,200.94 L554.96,201.34 L556.23,201.74 L557.51,202.14 L558.78,202.54 L560.06,202.94 L561.33,203.35 L562.61,203.75 L563.89,204.15 L565.16,204.55 L566.44,204.96 L567.71,205.36 L568.99,205.76 L570.26,206.16 L571.54,206.57 L572.81,206.97 L574.09,207.38 L575.36,207.78 L576.64,208.18 L577.91,208.59 L579.19,208.99 L580.46,209.40 L581.74,209.80 L583.01,210.21 L584.29,210.61 L585.56,211.02 L586.84,211.42 L588.11,211.83 L589.39,212.24 L590.66,212.64 L591.94,213.05 L593.21,213.46 L594.48,213.87 L595.76,214.27 L597.03,214.68 L598.31,215.09 L599.58,215.50 L600.85,215.91 L602.13,216.32 L603.40,216.72 L604.68,217.13 L605.95,217.54 L607.22,217.95 L608.50,218.36 L609.77,218.78 L611.04,219.19 L612.32,219.60 L613.59,220.01 L614.86,220.42 L616.14,220.83 L617.41,221.25 L618.68,221.66 L619.95,222.07 L621.23,222.49 L622.50,222.90" fill="none" stroke="#ff8000" stroke-width="3.0" stroke-dasharray="8.3 1.7" stroke-dashoffset="3" stroke-linejoin="round"/>
</g>
<rect x="58.5" y="24.5" width="563.0" height="348.0" fill="none" stroke="#777777" stroke-width="1" shape-rendering="crispEdges"/>
<path d="M214.89,372.5 v-5.5 M214.89,24.5 v5.5" stroke="#777777" stroke-width="1" fill="none" shape-rendering="crispEdges"/>
<path d="M371.28,372.5 v-5.5 M371.28,24.5 v5.5" stroke="#777777" stroke-width="1" fill="none" shape-rendering="crispEdges"/>
<path d="M527.67,372.5 v-5.5 M527.67,24.5 v5.5" stroke="#777777" stroke-width="1" fill="none" shape-rendering="crispEdges"/>
<path d="M58.5,372.50 h5.5 M621.5,372.50 h-5.5" stroke="#777777" stroke-width="1" fill="none" shape-rendering="crispEdges"/>
<path d="M58.5,350.75 h3.7 M621.5,350.75 h-3.7" stroke="#777777" stroke-width="1" fill="none" shape-rendering="crispEdges"/>
<path d="M58.5,329.00 h3.7 M621.5,329.00 h-3.7" stroke="#777777" stroke-width="1" fill="none" shape-rendering="crispEdges"/>
<path d="M58.5,307.25 h3.7 M621.5,307.25 h-3.7" stroke="#777777" stroke-width="1" fill="none" shape-rendering="crispEdges"/>
<path d="M58.5,285.50 h5.5 M621.5,285.50 h-5.5" stroke="#777777" stroke-width="1" fill="none" shape-rendering="crispEdges"/>
<path d="M58.5,263.75 h3.7 M621.5,263.75 h-3.7" stroke="#777777" stroke-width="1" fill="none" shape-rendering="crispEdges"/>
<path d="M58.5,242.00 h3.7 M621.5,242.00 h-3.7" stroke="#777777" stroke-width="1" fill="none" shape-rendering="crispEdges"/>
<path d="M58.5,220.25 h3.7 M621.5,220.25 h-3.7" stroke="#777777" stroke-width="1" fill="none" shape-rendering="crispEdges"/>
<path d="M58.5,198.50 h5.5 M621.5,198.50 h-5.5" stroke="#777777" stroke-width="1" fill="none" shape-rendering="crispEdges"/>
<path d="M58.5,176.75 h3.7 M621.5,176.75 h-3.7" stroke="#777777" stroke-width="1" fill="none" shape-rendering="crispEdges"/>
<path d="M58.5,155.00 h3.7 M621.5,155.00 h-3.7" stroke="#777777" stroke-width="1" fill="none" shape-rendering="crispEdges"/>
<path d="M58.5,133.25 h3.7 M621.5,133.25 h-3.7" stroke="#777777" stroke-width="1" fill="none" shape-rendering="crispEdges"/>
<path d="M58.5,111.50 h5.5 M621.5,111.50 h-5.5" stroke="#777777" stroke-width="1" fill="none" shape-rendering="crispEdges"/>
<path d="M58.5,89.75 h3.7 M621.5,89.75 h-3.7" stroke="#777777" stroke-width="1" fill="none" shape-rendering="crispEdges"/>
<path d="M58.5,68.00 h3.7 M621.5,68.00 h-3.7" stroke="#777777" stroke-width="1" fill="none" shape-rendering="crispEdges"/>
<path d="M58.5,46.25 h3.7 M621.5,46.25 h-3.7" stroke="#777777" stroke-width="1" fill="none" shape-rendering="crispEdges"/>
<path d="M58.5,24.50 h5.5 M621.5,24.50 h-5.5" stroke="#777777" stroke-width="1" fill="none" shape-rendering="crispEdges"/>
<text x="214.89" y="393.8" text-anchor="middle" font-size="19" font-family="Liberation Serif, serif" font-weight="bold">50</text>
<text x="214.89" y="17.8" text-anchor="middle" font-size="19" font-family="Liberation Serif, serif" font-weight="bold">50</text>
<text x="371.28" y="393.8" text-anchor="middle" font-size="19" font-family="Liberation Serif, serif" font-weight="bold">100</text>
<text x="371.28" y="17.8" text-anchor="middle" font-size="19" font-family="Liberation Serif, serif" font-weight="bold">100</text>
<text x="527.67" y="393.8" text-anchor="middle" font-size="19" font-family="Liberation Serif, serif" font-weight="bold">150</text>
<text x="527.67" y="17.8" text-anchor="middle" font-size="19" font-family="Liberation Serif, serif" font-weight="bold">150</text>
<text x="55.2" y="379.70" text-anchor="end" font-size="18.8" font-family="Liberation Serif, serif" font-weight="bold">0</text>
<text x="55.2" y="292.70" text-anchor="end" font-size="18.8" font-family="Liberation Serif, serif" font-weight="bold">20</text>
<text x="55.2" y="205.70" text-anchor="end" font-size="18.8" font-family="Liberation Serif, serif" font-weight="bold">40</text>
<text x="55.2" y="118.70" text-anchor="end" font-size="18.8" font-family="Liberation Serif, serif" font-weight="bold">60</text>
<text x="55.2" y="31.70" text-anchor="end" font-size="18.8" font-family="Liberation Serif, serif" font-weight="bold">80</text>
<text x="340.5" y="427.4" text-anchor="middle" font-size="25" font-family="Liberation Serif, serif" font-weight="bold">|p| (MeV)</text>
<text transform="translate(23,199) rotate(-90)" text-anchor="middle" font-size="25" font-family="Liberation Serif, serif" font-weight="bold"><tspan font-style="italic" font-weight="normal">δ</tspan> (deg)</text>
</svg>
</body></html>
